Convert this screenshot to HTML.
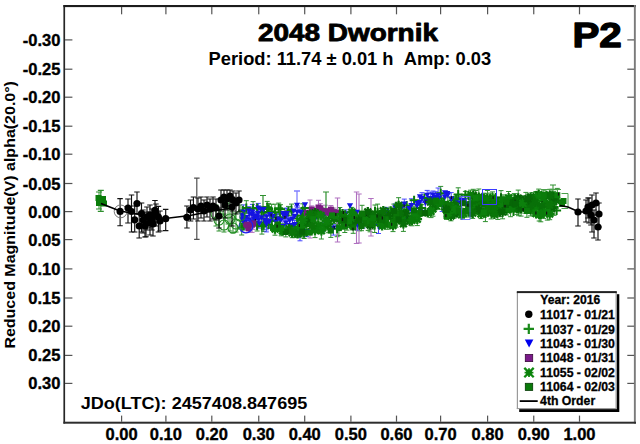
<!DOCTYPE html>
<html><head><meta charset="utf-8"><style>
html,body{margin:0;padding:0;background:#fff;width:640px;height:444px;overflow:hidden}
text{font-family:"Liberation Sans", sans-serif}
</style></head><body>
<svg width="640" height="444" viewBox="0 0 640 444" style="position:absolute;left:0;top:0;font-family:'Liberation Sans', sans-serif">
<rect width="640" height="444" fill="#fff"/>
<path d="M453.5 196.8V204.0M451.0 196.8h5M451.0 204.0h5" stroke="#2e8f2e" stroke-width="1.0" fill="none"/>
<path d="M280.1 213.4V225.3M277.6 213.4h5M277.6 225.3h5" stroke="#2e8f2e" stroke-width="1.0" fill="none"/>
<path d="M328.8 212.8V221.4M326.3 212.8h5M326.3 221.4h5" stroke="#2e8f2e" stroke-width="1.0" fill="none"/>
<path d="M263.8 206.6V218.1M261.3 206.6h5M261.3 218.1h5" stroke="#2e8f2e" stroke-width="1.0" fill="none"/>
<path d="M390.9 211.6V222.8M388.4 211.6h5M388.4 222.8h5" stroke="#2e8f2e" stroke-width="1.0" fill="none"/>
<path d="M553.5 192.0V206.2M551.0 192.0h5M551.0 206.2h5" stroke="#2e8f2e" stroke-width="1.0" fill="none"/>
<path d="M261.9 220.0V234.1M259.4 220.0h5M259.4 234.1h5" stroke="#2e8f2e" stroke-width="1.0" fill="none"/>
<path d="M275.8 214.6V221.5M273.3 214.6h5M273.3 221.5h5" stroke="#2e8f2e" stroke-width="1.0" fill="none"/>
<path d="M440.7 186.4V197.2M438.2 186.4h5M438.2 197.2h5" stroke="#2e8f2e" stroke-width="1.0" fill="none"/>
<path d="M370.3 210.8V217.5M367.8 210.8h5M367.8 217.5h5" stroke="#2e8f2e" stroke-width="1.0" fill="none"/>
<path d="M342.3 214.3V229.1M339.8 214.3h5M339.8 229.1h5" stroke="#2e8f2e" stroke-width="1.0" fill="none"/>
<path d="M498.0 197.5V206.3M495.5 197.5h5M495.5 206.3h5" stroke="#2e8f2e" stroke-width="1.0" fill="none"/>
<path d="M337.1 225.1V236.7M334.6 225.1h5M334.6 236.7h5" stroke="#2e8f2e" stroke-width="1.0" fill="none"/>
<path d="M268.7 203.4V215.7M266.2 203.4h5M266.2 215.7h5" stroke="#2e8f2e" stroke-width="1.0" fill="none"/>
<path d="M368.2 216.6V230.4M365.7 216.6h5M365.7 230.4h5" stroke="#2e8f2e" stroke-width="1.0" fill="none"/>
<path d="M280.5 204.7V216.4M278.0 204.7h5M278.0 216.4h5" stroke="#2e8f2e" stroke-width="1.0" fill="none"/>
<path d="M514.4 193.6V203.9M511.9 193.6h5M511.9 203.9h5" stroke="#2e8f2e" stroke-width="1.0" fill="none"/>
<path d="M349.8 211.6V221.9M347.3 211.6h5M347.3 221.9h5" stroke="#2e8f2e" stroke-width="1.0" fill="none"/>
<path d="M465.4 191.4V202.3M462.9 191.4h5M462.9 202.3h5" stroke="#2e8f2e" stroke-width="1.0" fill="none"/>
<path d="M267.2 201.4V213.3M264.7 201.4h5M264.7 213.3h5" stroke="#2e8f2e" stroke-width="1.0" fill="none"/>
<path d="M243.6 221.9V229.6M241.1 221.9h5M241.1 229.6h5" stroke="#2e8f2e" stroke-width="1.0" fill="none"/>
<path d="M359.5 220.4V230.8M357.0 220.4h5M357.0 230.8h5" stroke="#2e8f2e" stroke-width="1.0" fill="none"/>
<path d="M302.8 203.8V216.6M300.3 203.8h5M300.3 216.6h5" stroke="#2e8f2e" stroke-width="1.0" fill="none"/>
<path d="M490.3 193.1V206.7M487.8 193.1h5M487.8 206.7h5" stroke="#2e8f2e" stroke-width="1.0" fill="none"/>
<path d="M486.3 197.9V212.5M483.8 197.9h5M483.8 212.5h5" stroke="#2e8f2e" stroke-width="1.0" fill="none"/>
<path d="M461.1 196.7V208.0M458.6 196.7h5M458.6 208.0h5" stroke="#2e8f2e" stroke-width="1.0" fill="none"/>
<path d="M263.7 218.9V231.5M261.2 218.9h5M261.2 231.5h5" stroke="#2e8f2e" stroke-width="1.0" fill="none"/>
<path d="M291.5 204.1V215.7M289.0 204.1h5M289.0 215.7h5" stroke="#2e8f2e" stroke-width="1.0" fill="none"/>
<path d="M390.7 207.2V215.1M388.2 207.2h5M388.2 215.1h5" stroke="#2e8f2e" stroke-width="1.0" fill="none"/>
<path d="M297.2 211.1V223.8M294.7 211.1h5M294.7 223.8h5" stroke="#2e8f2e" stroke-width="1.0" fill="none"/>
<path d="M393.0 211.2V222.5M390.5 211.2h5M390.5 222.5h5" stroke="#2e8f2e" stroke-width="1.0" fill="none"/>
<path d="M374.7 216.6V232.5M372.2 216.6h5M372.2 232.5h5" stroke="#2e8f2e" stroke-width="1.0" fill="none"/>
<path d="M456.1 194.8V207.1M453.6 194.8h5M453.6 207.1h5" stroke="#2e8f2e" stroke-width="1.0" fill="none"/>
<path d="M421.7 204.7V215.2M419.2 204.7h5M419.2 215.2h5" stroke="#2e8f2e" stroke-width="1.0" fill="none"/>
<path d="M375.0 205.0V217.5M372.5 205.0h5M372.5 217.5h5" stroke="#2e8f2e" stroke-width="1.0" fill="none"/>
<path d="M520.4 196.5V207.8M517.9 196.5h5M517.9 207.8h5" stroke="#2e8f2e" stroke-width="1.0" fill="none"/>
<path d="M271.7 217.7V227.8M269.2 217.7h5M269.2 227.8h5" stroke="#2e8f2e" stroke-width="1.0" fill="none"/>
<path d="M458.2 187.8V202.9M455.7 187.8h5M455.7 202.9h5" stroke="#2e8f2e" stroke-width="1.0" fill="none"/>
<path d="M246.3 200.7V213.4M243.8 200.7h5M243.8 213.4h5" stroke="#2e8f2e" stroke-width="1.0" fill="none"/>
<path d="M261.7 206.9V217.8M259.2 206.9h5M259.2 217.8h5" stroke="#2e8f2e" stroke-width="1.0" fill="none"/>
<path d="M344.1 211.3V223.1M341.6 211.3h5M341.6 223.1h5" stroke="#2e8f2e" stroke-width="1.0" fill="none"/>
<path d="M241.7 223.8V235.0M239.2 223.8h5M239.2 235.0h5" stroke="#2e8f2e" stroke-width="1.0" fill="none"/>
<path d="M268.5 218.5V228.1M266.0 218.5h5M266.0 228.1h5" stroke="#2e8f2e" stroke-width="1.0" fill="none"/>
<path d="M554.1 202.3V215.3M551.6 202.3h5M551.6 215.3h5" stroke="#2e8f2e" stroke-width="1.0" fill="none"/>
<path d="M275.0 204.2V216.4M272.5 204.2h5M272.5 216.4h5" stroke="#2e8f2e" stroke-width="1.0" fill="none"/>
<path d="M244.4 212.3V225.8M241.9 212.3h5M241.9 225.8h5" stroke="#2e8f2e" stroke-width="1.0" fill="none"/>
<path d="M420.3 200.1V213.5M417.8 200.1h5M417.8 213.5h5" stroke="#2e8f2e" stroke-width="1.0" fill="none"/>
<path d="M483.9 193.2V203.7M481.4 193.2h5M481.4 203.7h5" stroke="#2e8f2e" stroke-width="1.0" fill="none"/>
<path d="M377.6 204.1V217.9M375.1 204.1h5M375.1 217.9h5" stroke="#2e8f2e" stroke-width="1.0" fill="none"/>
<path d="M288.5 206.4V218.8M286.0 206.4h5M286.0 218.8h5" stroke="#2e8f2e" stroke-width="1.0" fill="none"/>
<path d="M501.0 190.6V201.6M498.5 190.6h5M498.5 201.6h5" stroke="#2e8f2e" stroke-width="1.0" fill="none"/>
<path d="M443.9 198.0V207.0M441.4 198.0h5M441.4 207.0h5" stroke="#2e8f2e" stroke-width="1.0" fill="none"/>
<path d="M339.8 207.5V218.7M337.3 207.5h5M337.3 218.7h5" stroke="#2e8f2e" stroke-width="1.0" fill="none"/>
<path d="M278.7 203.1V214.3M276.2 203.1h5M276.2 214.3h5" stroke="#2e8f2e" stroke-width="1.0" fill="none"/>
<path d="M301.0 209.1V221.0M298.5 209.1h5M298.5 221.0h5" stroke="#2e8f2e" stroke-width="1.0" fill="none"/>
<path d="M253.1 201.6V212.7M250.6 201.6h5M250.6 212.7h5" stroke="#2e8f2e" stroke-width="1.0" fill="none"/>
<path d="M271.6 204.3V217.5M269.1 204.3h5M269.1 217.5h5" stroke="#2e8f2e" stroke-width="1.0" fill="none"/>
<path d="M323.4 208.6V219.4M320.9 208.6h5M320.9 219.4h5" stroke="#2e8f2e" stroke-width="1.0" fill="none"/>
<path d="M257.1 218.7V231.0M254.6 218.7h5M254.6 231.0h5" stroke="#2e8f2e" stroke-width="1.0" fill="none"/>
<path d="M533.5 192.6V207.1M531.0 192.6h5M531.0 207.1h5" stroke="#2e8f2e" stroke-width="1.0" fill="none"/>
<path d="M251.9 209.0V218.9M249.4 209.0h5M249.4 218.9h5" stroke="#4848ff" stroke-width="1.0" fill="none"/>
<path d="M258.3 203.4V215.8M255.8 203.4h5M255.8 215.8h5" stroke="#4848ff" stroke-width="1.0" fill="none"/>
<path d="M285.9 216.3V229.3M283.4 216.3h5M283.4 229.3h5" stroke="#4848ff" stroke-width="1.0" fill="none"/>
<path d="M297.3 207.7V216.3M294.8 207.7h5M294.8 216.3h5" stroke="#4848ff" stroke-width="1.0" fill="none"/>
<path d="M289.7 218.4V229.9M287.2 218.4h5M287.2 229.9h5" stroke="#4848ff" stroke-width="1.0" fill="none"/>
<path d="M435.4 191.7V204.0M432.9 191.7h5M432.9 204.0h5" stroke="#4848ff" stroke-width="1.0" fill="none"/>
<path d="M323.2 209.3V222.7M320.7 209.3h5M320.7 222.7h5" stroke="#4848ff" stroke-width="1.0" fill="none"/>
<path d="M258.7 214.9V228.1M256.2 214.9h5M256.2 228.1h5" stroke="#4848ff" stroke-width="1.0" fill="none"/>
<path d="M249.0 206.7V219.0M246.5 206.7h5M246.5 219.0h5" stroke="#4848ff" stroke-width="1.0" fill="none"/>
<path d="M253.9 212.0V220.8M251.4 212.0h5M251.4 220.8h5" stroke="#4848ff" stroke-width="1.0" fill="none"/>
<path d="M432.7 193.6V203.9M430.2 193.6h5M430.2 203.9h5" stroke="#4848ff" stroke-width="1.0" fill="none"/>
<path d="M275.8 217.7V225.8M273.3 217.7h5M273.3 225.8h5" stroke="#4848ff" stroke-width="1.0" fill="none"/>
<path d="M346.0 209.8V218.9M343.5 209.8h5M343.5 218.9h5" stroke="#4848ff" stroke-width="1.0" fill="none"/>
<path d="M458.0 197.5V211.1M455.5 197.5h5M455.5 211.1h5" stroke="#4848ff" stroke-width="1.0" fill="none"/>
<path d="M252.4 204.4V219.8M249.9 204.4h5M249.9 219.8h5" stroke="#4848ff" stroke-width="1.0" fill="none"/>
<path d="M466.5 198.5V211.5M464.0 198.5h5M464.0 211.5h5" stroke="#4848ff" stroke-width="1.0" fill="none"/>
<path d="M451.2 192.6V207.3M448.7 192.6h5M448.7 207.3h5" stroke="#4848ff" stroke-width="1.0" fill="none"/>
<path d="M362.9 216.7V228.1M360.4 216.7h5M360.4 228.1h5" stroke="#4848ff" stroke-width="1.0" fill="none"/>
<path d="M282.9 219.4V231.0M280.4 219.4h5M280.4 231.0h5" stroke="#4848ff" stroke-width="1.0" fill="none"/>
<path d="M427.2 190.4V202.5M424.7 190.4h5M424.7 202.5h5" stroke="#4848ff" stroke-width="1.0" fill="none"/>
<path d="M277.8 213.1V224.2M275.3 213.1h5M275.3 224.2h5" stroke="#4848ff" stroke-width="1.0" fill="none"/>
<path d="M286.0 208.4V220.2M283.5 208.4h5M283.5 220.2h5" stroke="#4848ff" stroke-width="1.0" fill="none"/>
<path d="M300.6 209.4V220.7M298.1 209.4h5M298.1 220.7h5" stroke="#4848ff" stroke-width="1.0" fill="none"/>
<path d="M422.0 192.7V202.4M419.5 192.7h5M419.5 202.4h5" stroke="#4848ff" stroke-width="1.0" fill="none"/>
<path d="M266.7 209.1V220.2M264.2 209.1h5M264.2 220.2h5" stroke="#4848ff" stroke-width="1.0" fill="none"/>
<path d="M289.6 217.6V224.2M287.1 217.6h5M287.1 224.2h5" stroke="#4848ff" stroke-width="1.0" fill="none"/>
<path d="M356.6 211.4V226.6M354.1 211.4h5M354.1 226.6h5" stroke="#4848ff" stroke-width="1.0" fill="none"/>
<path d="M242.2 215.9V225.2M239.7 215.9h5M239.7 225.2h5" stroke="#4848ff" stroke-width="1.0" fill="none"/>
<path d="M306.4 225.8V236.6M303.9 225.8h5M303.9 236.6h5" stroke="#4848ff" stroke-width="1.0" fill="none"/>
<path d="M333.5 224.2V235.1M331.0 224.2h5M331.0 235.1h5" stroke="#4848ff" stroke-width="1.0" fill="none"/>
<path d="M286.8 208.1V217.2M284.3 208.1h5M284.3 217.2h5" stroke="#4848ff" stroke-width="1.0" fill="none"/>
<path d="M249.8 208.2V222.7M247.3 208.2h5M247.3 222.7h5" stroke="#4848ff" stroke-width="1.0" fill="none"/>
<path d="M272.7 213.0V221.4M270.2 213.0h5M270.2 221.4h5" stroke="#4848ff" stroke-width="1.0" fill="none"/>
<path d="M270.0 207.8V222.8M267.5 207.8h5M267.5 222.8h5" stroke="#4848ff" stroke-width="1.0" fill="none"/>
<path d="M419.6 197.0V208.9M417.1 197.0h5M417.1 208.9h5" stroke="#4848ff" stroke-width="1.0" fill="none"/>
<path d="M264.7 214.3V227.0M262.2 214.3h5M262.2 227.0h5" stroke="#4848ff" stroke-width="1.0" fill="none"/>
<path d="M243.3 215.6V229.7M240.8 215.6h5M240.8 229.7h5" stroke="#4848ff" stroke-width="1.0" fill="none"/>
<path d="M380.0 217.2V228.5M377.5 217.2h5M377.5 228.5h5" stroke="#4848ff" stroke-width="1.0" fill="none"/>
<path d="M444.8 194.1V204.9M442.3 194.1h5M442.3 204.9h5" stroke="#4848ff" stroke-width="1.0" fill="none"/>
<path d="M269.4 216.0V228.0M266.9 216.0h5M266.9 228.0h5" stroke="#4848ff" stroke-width="1.0" fill="none"/>
<path d="M378.5 222.8V233.5M376.0 222.8h5M376.0 233.5h5" stroke="#4848ff" stroke-width="1.0" fill="none"/>
<path d="M385.7 207.4V217.2M383.2 207.4h5M383.2 217.2h5" stroke="#4848ff" stroke-width="1.0" fill="none"/>
<path d="M249.2 212.9V224.6M246.7 212.9h5M246.7 224.6h5" stroke="#4848ff" stroke-width="1.0" fill="none"/>
<path d="M254.2 213.9V224.7M251.7 213.9h5M251.7 224.7h5" stroke="#4848ff" stroke-width="1.0" fill="none"/>
<path d="M461.5 194.9V204.7M459.0 194.9h5M459.0 204.7h5" stroke="#4848ff" stroke-width="1.0" fill="none"/>
<path d="M401.5 204.3V212.5M399.0 204.3h5M399.0 212.5h5" stroke="#4848ff" stroke-width="1.0" fill="none"/>
<path d="M357.4 217.9V230.1M354.9 217.9h5M354.9 230.1h5" stroke="#4848ff" stroke-width="1.0" fill="none"/>
<path d="M430.4 192.1V203.1M427.9 192.1h5M427.9 203.1h5" stroke="#4848ff" stroke-width="1.0" fill="none"/>
<path d="M425.3 198.8V211.0M422.8 198.8h5M422.8 211.0h5" stroke="#4848ff" stroke-width="1.0" fill="none"/>
<path d="M433.0 191.0V199.9M430.5 191.0h5M430.5 199.9h5" stroke="#4848ff" stroke-width="1.0" fill="none"/>
<path d="M411.4 198.8V212.5M408.9 198.8h5M408.9 212.5h5" stroke="#4848ff" stroke-width="1.0" fill="none"/>
<path d="M266.3 219.2V229.8M263.8 219.2h5M263.8 229.8h5" stroke="#4848ff" stroke-width="1.0" fill="none"/>
<path d="M294.7 220.6V230.1M292.2 220.6h5M292.2 230.1h5" stroke="#4848ff" stroke-width="1.0" fill="none"/>
<path d="M246.3 215.8V228.8M243.8 215.8h5M243.8 228.8h5" stroke="#4848ff" stroke-width="1.0" fill="none"/>
<path d="M266.4 220.8V231.9M263.9 220.8h5M263.9 231.9h5" stroke="#4848ff" stroke-width="1.0" fill="none"/>
<path d="M243.4 204.9V217.3M240.9 204.9h5M240.9 217.3h5" stroke="#4848ff" stroke-width="1.0" fill="none"/>
<path d="M442.1 198.1V211.4M439.6 198.1h5M439.6 211.4h5" stroke="#4848ff" stroke-width="1.0" fill="none"/>
<path d="M438.1 188.0V198.6M435.6 188.0h5M435.6 198.6h5" stroke="#4848ff" stroke-width="1.0" fill="none"/>
<path d="M404.3 199.1V207.6M401.8 199.1h5M401.8 207.6h5" stroke="#4848ff" stroke-width="1.0" fill="none"/>
<path d="M395.3 203.9V215.9M392.8 203.9h5M392.8 215.9h5" stroke="#4848ff" stroke-width="1.0" fill="none"/>
<path d="M402.2 204.7V216.6M399.7 204.7h5M399.7 216.6h5" stroke="#4848ff" stroke-width="1.0" fill="none"/>
<path d="M261.5 209.7V221.9M259.0 209.7h5M259.0 221.9h5" stroke="#4848ff" stroke-width="1.0" fill="none"/>
<path d="M300.0 226.2V240.8M297.5 226.2h5M297.5 240.8h5" stroke="#4848ff" stroke-width="1.0" fill="none"/>
<path d="M292.4 211.0V224.7M289.9 211.0h5M289.9 224.7h5" stroke="#4848ff" stroke-width="1.0" fill="none"/>
<path d="M311.8 205.9V214.0M309.3 205.9h5M309.3 214.0h5" stroke="#b070c0" stroke-width="1.0" fill="none"/>
<path d="M330.9 205.5V214.5M328.4 205.5h5M328.4 214.5h5" stroke="#b070c0" stroke-width="1.0" fill="none"/>
<path d="M248.6 223.6V232.3M246.1 223.6h5M246.1 232.3h5" stroke="#b070c0" stroke-width="1.0" fill="none"/>
<path d="M325.3 205.2V217.1M322.8 205.2h5M322.8 217.1h5" stroke="#b070c0" stroke-width="1.0" fill="none"/>
<path d="M253.2 216.2V229.3M250.7 216.2h5M250.7 229.3h5" stroke="#b070c0" stroke-width="1.0" fill="none"/>
<path d="M334.0 208.1V215.8M331.5 208.1h5M331.5 215.8h5" stroke="#b070c0" stroke-width="1.0" fill="none"/>
<path d="M318.5 200.3V215.6M316.0 200.3h5M316.0 215.6h5" stroke="#b070c0" stroke-width="1.0" fill="none"/>
<path d="M247.2 220.9V229.6M244.7 220.9h5M244.7 229.6h5" stroke="#b070c0" stroke-width="1.0" fill="none"/>
<path d="M320.3 203.7V215.7M317.8 203.7h5M317.8 215.7h5" stroke="#b070c0" stroke-width="1.0" fill="none"/>
<path d="M252.1 218.4V232.4M249.6 218.4h5M249.6 232.4h5" stroke="#b070c0" stroke-width="1.0" fill="none"/>
<path d="M315.2 208.8V221.1M312.7 208.8h5M312.7 221.1h5" stroke="#2e8f2e" stroke-width="1.0" fill="none"/>
<path d="M552.0 189.3V201.7M549.5 189.3h5M549.5 201.7h5" stroke="#2e8f2e" stroke-width="1.0" fill="none"/>
<path d="M305.2 219.0V226.9M302.7 219.0h5M302.7 226.9h5" stroke="#2e8f2e" stroke-width="1.0" fill="none"/>
<path d="M527.8 199.2V206.4M525.3 199.2h5M525.3 206.4h5" stroke="#2e8f2e" stroke-width="1.0" fill="none"/>
<path d="M306.5 215.3V228.4M304.0 215.3h5M304.0 228.4h5" stroke="#2e8f2e" stroke-width="1.0" fill="none"/>
<path d="M538.7 189.1V198.7M536.2 189.1h5M536.2 198.7h5" stroke="#2e8f2e" stroke-width="1.0" fill="none"/>
<path d="M508.1 198.6V206.5M505.6 198.6h5M505.6 206.5h5" stroke="#2e8f2e" stroke-width="1.0" fill="none"/>
<path d="M506.6 203.5V215.0M504.1 203.5h5M504.1 215.0h5" stroke="#2e8f2e" stroke-width="1.0" fill="none"/>
<path d="M345.9 212.5V223.7M343.4 212.5h5M343.4 223.7h5" stroke="#2e8f2e" stroke-width="1.0" fill="none"/>
<path d="M275.0 221.1V235.2M272.5 221.1h5M272.5 235.2h5" stroke="#2e8f2e" stroke-width="1.0" fill="none"/>
<path d="M359.8 211.4V222.9M357.3 211.4h5M357.3 222.9h5" stroke="#2e8f2e" stroke-width="1.0" fill="none"/>
<path d="M380.1 215.0V227.3M377.6 215.0h5M377.6 227.3h5" stroke="#2e8f2e" stroke-width="1.0" fill="none"/>
<path d="M497.8 205.2V219.4M495.3 205.2h5M495.3 219.4h5" stroke="#2e8f2e" stroke-width="1.0" fill="none"/>
<path d="M347.0 219.1V230.1M344.5 219.1h5M344.5 230.1h5" stroke="#2e8f2e" stroke-width="1.0" fill="none"/>
<path d="M535.9 191.5V201.6M533.4 191.5h5M533.4 201.6h5" stroke="#2e8f2e" stroke-width="1.0" fill="none"/>
<path d="M538.6 203.7V214.0M536.1 203.7h5M536.1 214.0h5" stroke="#2e8f2e" stroke-width="1.0" fill="none"/>
<path d="M304.1 226.7V238.5M301.6 226.7h5M301.6 238.5h5" stroke="#2e8f2e" stroke-width="1.0" fill="none"/>
<path d="M419.2 208.0V216.1M416.7 208.0h5M416.7 216.1h5" stroke="#2e8f2e" stroke-width="1.0" fill="none"/>
<path d="M533.2 196.4V207.0M530.7 196.4h5M530.7 207.0h5" stroke="#2e8f2e" stroke-width="1.0" fill="none"/>
<path d="M374.3 212.3V221.3M371.8 212.3h5M371.8 221.3h5" stroke="#2e8f2e" stroke-width="1.0" fill="none"/>
<path d="M530.6 203.7V215.9M528.1 203.7h5M528.1 215.9h5" stroke="#2e8f2e" stroke-width="1.0" fill="none"/>
<path d="M325.2 220.9V229.8M322.7 220.9h5M322.7 229.8h5" stroke="#2e8f2e" stroke-width="1.0" fill="none"/>
<path d="M540.8 206.8V221.8M538.3 206.8h5M538.3 221.8h5" stroke="#2e8f2e" stroke-width="1.0" fill="none"/>
<path d="M455.4 198.3V212.1M452.9 198.3h5M452.9 212.1h5" stroke="#2e8f2e" stroke-width="1.0" fill="none"/>
<path d="M492.6 191.9V206.2M490.1 191.9h5M490.1 206.2h5" stroke="#2e8f2e" stroke-width="1.0" fill="none"/>
<path d="M481.0 208.4V218.6M478.5 208.4h5M478.5 218.6h5" stroke="#2e8f2e" stroke-width="1.0" fill="none"/>
<path d="M454.3 209.0V218.0M451.8 209.0h5M451.8 218.0h5" stroke="#2e8f2e" stroke-width="1.0" fill="none"/>
<path d="M518.5 200.7V215.7M516.0 200.7h5M516.0 215.7h5" stroke="#2e8f2e" stroke-width="1.0" fill="none"/>
<path d="M454.3 197.9V212.2M451.8 197.9h5M451.8 212.2h5" stroke="#2e8f2e" stroke-width="1.0" fill="none"/>
<path d="M552.3 194.4V206.5M549.8 194.4h5M549.8 206.5h5" stroke="#2e8f2e" stroke-width="1.0" fill="none"/>
<path d="M518.2 190.1V201.2M515.7 190.1h5M515.7 201.2h5" stroke="#2e8f2e" stroke-width="1.0" fill="none"/>
<path d="M432.9 204.0V216.2M430.4 204.0h5M430.4 216.2h5" stroke="#2e8f2e" stroke-width="1.0" fill="none"/>
<path d="M533.2 199.7V215.9M530.7 199.7h5M530.7 215.9h5" stroke="#2e8f2e" stroke-width="1.0" fill="none"/>
<path d="M510.9 197.8V207.9M508.4 197.8h5M508.4 207.9h5" stroke="#2e8f2e" stroke-width="1.0" fill="none"/>
<path d="M487.4 190.5V206.7M484.9 190.5h5M484.9 206.7h5" stroke="#2e8f2e" stroke-width="1.0" fill="none"/>
<path d="M441.4 198.5V209.3M438.9 198.5h5M438.9 209.3h5" stroke="#2e8f2e" stroke-width="1.0" fill="none"/>
<path d="M294.9 226.9V237.6M292.4 226.9h5M292.4 237.6h5" stroke="#2e8f2e" stroke-width="1.0" fill="none"/>
<path d="M318.4 217.6V232.6M315.9 217.6h5M315.9 232.6h5" stroke="#2e8f2e" stroke-width="1.0" fill="none"/>
<path d="M351.6 214.0V228.7M349.1 214.0h5M349.1 228.7h5" stroke="#2e8f2e" stroke-width="1.0" fill="none"/>
<path d="M471.2 201.7V211.8M468.7 201.7h5M468.7 211.8h5" stroke="#2e8f2e" stroke-width="1.0" fill="none"/>
<path d="M498.7 199.3V210.5M496.2 199.3h5M496.2 210.5h5" stroke="#2e8f2e" stroke-width="1.0" fill="none"/>
<path d="M491.2 205.0V218.9M488.7 205.0h5M488.7 218.9h5" stroke="#2e8f2e" stroke-width="1.0" fill="none"/>
<path d="M499.8 206.1V216.7M497.3 206.1h5M497.3 216.7h5" stroke="#2e8f2e" stroke-width="1.0" fill="none"/>
<path d="M472.5 198.0V208.6M470.0 198.0h5M470.0 208.6h5" stroke="#2e8f2e" stroke-width="1.0" fill="none"/>
<path d="M450.9 207.8V220.8M448.4 207.8h5M448.4 220.8h5" stroke="#2e8f2e" stroke-width="1.0" fill="none"/>
<path d="M417.3 211.0V225.6M414.8 211.0h5M414.8 225.6h5" stroke="#2e8f2e" stroke-width="1.0" fill="none"/>
<path d="M518.8 197.6V208.0M516.3 197.6h5M516.3 208.0h5" stroke="#2e8f2e" stroke-width="1.0" fill="none"/>
<path d="M546.9 201.7V212.7M544.4 201.7h5M544.4 212.7h5" stroke="#2e8f2e" stroke-width="1.0" fill="none"/>
<path d="M396.0 214.5V227.2M393.5 214.5h5M393.5 227.2h5" stroke="#2e8f2e" stroke-width="1.0" fill="none"/>
<path d="M517.0 204.1V214.4M514.5 204.1h5M514.5 214.4h5" stroke="#2e8f2e" stroke-width="1.0" fill="none"/>
<path d="M282.5 226.2V234.4M280.0 226.2h5M280.0 234.4h5" stroke="#2e8f2e" stroke-width="1.0" fill="none"/>
<path d="M351.8 207.4V218.2M349.3 207.4h5M349.3 218.2h5" stroke="#2e8f2e" stroke-width="1.0" fill="none"/>
<path d="M476.8 202.9V213.4M474.3 202.9h5M474.3 213.4h5" stroke="#2e8f2e" stroke-width="1.0" fill="none"/>
<path d="M556.3 194.7V208.6M553.8 194.7h5M553.8 208.6h5" stroke="#2e8f2e" stroke-width="1.0" fill="none"/>
<path d="M553.5 191.3V203.5M551.0 191.3h5M551.0 203.5h5" stroke="#2e8f2e" stroke-width="1.0" fill="none"/>
<path d="M353.1 209.0V223.7M350.6 209.0h5M350.6 223.7h5" stroke="#2e8f2e" stroke-width="1.0" fill="none"/>
<path d="M328.2 218.3V232.7M325.7 218.3h5M325.7 232.7h5" stroke="#2e8f2e" stroke-width="1.0" fill="none"/>
<path d="M481.4 196.8V208.1M478.9 196.8h5M478.9 208.1h5" stroke="#2e8f2e" stroke-width="1.0" fill="none"/>
<path d="M393.0 221.7V231.6M390.5 221.7h5M390.5 231.6h5" stroke="#2e8f2e" stroke-width="1.0" fill="none"/>
<path d="M388.0 208.8V222.7M385.5 208.8h5M385.5 222.7h5" stroke="#2e8f2e" stroke-width="1.0" fill="none"/>
<path d="M487.5 202.0V215.8M485.0 202.0h5M485.0 215.8h5" stroke="#2e8f2e" stroke-width="1.0" fill="none"/>
<path d="M455.6 204.4V215.3M453.1 204.4h5M453.1 215.3h5" stroke="#2e8f2e" stroke-width="1.0" fill="none"/>
<path d="M520.2 199.3V213.2M517.7 199.3h5M517.7 213.2h5" stroke="#2e8f2e" stroke-width="1.0" fill="none"/>
<path d="M541.4 192.6V200.5M538.9 192.6h5M538.9 200.5h5" stroke="#2e8f2e" stroke-width="1.0" fill="none"/>
<path d="M297.6 228.3V237.4M295.1 228.3h5M295.1 237.4h5" stroke="#2e8f2e" stroke-width="1.0" fill="none"/>
<path d="M473.3 189.3V202.6M470.8 189.3h5M470.8 202.6h5" stroke="#2e8f2e" stroke-width="1.0" fill="none"/>
<path d="M539.2 207.7V221.0M536.7 207.7h5M536.7 221.0h5" stroke="#2e8f2e" stroke-width="1.0" fill="none"/>
<path d="M525.8 203.3V213.4M523.3 203.3h5M523.3 213.4h5" stroke="#2e8f2e" stroke-width="1.0" fill="none"/>
<path d="M530.3 201.8V210.7M527.8 201.8h5M527.8 210.7h5" stroke="#2e8f2e" stroke-width="1.0" fill="none"/>
<path d="M450.3 203.5V212.1M447.8 203.5h5M447.8 212.1h5" stroke="#2e8f2e" stroke-width="1.0" fill="none"/>
<path d="M510.6 204.9V216.7M508.1 204.9h5M508.1 216.7h5" stroke="#2e8f2e" stroke-width="1.0" fill="none"/>
<path d="M486.0 193.6V204.6M483.5 193.6h5M483.5 204.6h5" stroke="#2e8f2e" stroke-width="1.0" fill="none"/>
<path d="M495.0 198.2V207.1M492.5 198.2h5M492.5 207.1h5" stroke="#2e8f2e" stroke-width="1.0" fill="none"/>
<path d="M326.4 215.9V226.3M323.9 215.9h5M323.9 226.3h5" stroke="#2e8f2e" stroke-width="1.0" fill="none"/>
<path d="M511.7 194.9V209.2M509.2 194.9h5M509.2 209.2h5" stroke="#2e8f2e" stroke-width="1.0" fill="none"/>
<path d="M448.1 207.8V218.2M445.6 207.8h5M445.6 218.2h5" stroke="#2e8f2e" stroke-width="1.0" fill="none"/>
<path d="M543.6 196.6V207.8M541.1 196.6h5M541.1 207.8h5" stroke="#2e8f2e" stroke-width="1.0" fill="none"/>
<path d="M317.7 210.1V222.0M315.2 210.1h5M315.2 222.0h5" stroke="#2e8f2e" stroke-width="1.0" fill="none"/>
<path d="M399.3 207.6V221.1M396.8 207.6h5M396.8 221.1h5" stroke="#2e8f2e" stroke-width="1.0" fill="none"/>
<path d="M341.8 215.6V228.6M339.3 215.6h5M339.3 228.6h5" stroke="#2e8f2e" stroke-width="1.0" fill="none"/>
<path d="M310.0 207.7V221.4M307.5 207.7h5M307.5 221.4h5" stroke="#2e8f2e" stroke-width="1.0" fill="none"/>
<path d="M321.4 223.8V239.0M318.9 223.8h5M318.9 239.0h5" stroke="#2e8f2e" stroke-width="1.0" fill="none"/>
<path d="M543.7 206.3V218.4M541.2 206.3h5M541.2 218.4h5" stroke="#2e8f2e" stroke-width="1.0" fill="none"/>
<path d="M315.0 226.2V237.6M312.5 226.2h5M312.5 237.6h5" stroke="#2e8f2e" stroke-width="1.0" fill="none"/>
<path d="M334.2 210.1V223.4M331.7 210.1h5M331.7 223.4h5" stroke="#2e8f2e" stroke-width="1.0" fill="none"/>
<path d="M472.7 210.0V218.4M470.2 210.0h5M470.2 218.4h5" stroke="#2e8f2e" stroke-width="1.0" fill="none"/>
<path d="M321.0 209.2V219.8M318.5 209.2h5M318.5 219.8h5" stroke="#2e8f2e" stroke-width="1.0" fill="none"/>
<path d="M525.9 192.4V204.9M523.4 192.4h5M523.4 204.9h5" stroke="#2e8f2e" stroke-width="1.0" fill="none"/>
<path d="M302.8 213.9V227.6M300.3 213.9h5M300.3 227.6h5" stroke="#2e8f2e" stroke-width="1.0" fill="none"/>
<path d="M502.6 205.7V218.8M500.1 205.7h5M500.1 218.8h5" stroke="#2e8f2e" stroke-width="1.0" fill="none"/>
<path d="M378.2 211.8V222.3M375.7 211.8h5M375.7 222.3h5" stroke="#2e8f2e" stroke-width="1.0" fill="none"/>
<path d="M549.8 189.3V201.4M547.3 189.3h5M547.3 201.4h5" stroke="#2e8f2e" stroke-width="1.0" fill="none"/>
<path d="M292.2 225.6V237.7M289.7 225.6h5M289.7 237.7h5" stroke="#2e8f2e" stroke-width="1.0" fill="none"/>
<path d="M447.9 197.1V209.9M445.4 197.1h5M445.4 209.9h5" stroke="#2e8f2e" stroke-width="1.0" fill="none"/>
<path d="M549.7 208.1V219.7M547.2 208.1h5M547.2 219.7h5" stroke="#2e8f2e" stroke-width="1.0" fill="none"/>
<path d="M508.6 191.5V205.8M506.1 191.5h5M506.1 205.8h5" stroke="#2e8f2e" stroke-width="1.0" fill="none"/>
<path d="M513.5 198.4V210.4M511.0 198.4h5M511.0 210.4h5" stroke="#2e8f2e" stroke-width="1.0" fill="none"/>
<path d="M431.0 207.5V217.6M428.5 207.5h5M428.5 217.6h5" stroke="#2e8f2e" stroke-width="1.0" fill="none"/>
<path d="M485.4 207.2V221.6M482.9 207.2h5M482.9 221.6h5" stroke="#2e8f2e" stroke-width="1.0" fill="none"/>
<path d="M478.8 189.0V202.2M476.3 189.0h5M476.3 202.2h5" stroke="#2e8f2e" stroke-width="1.0" fill="none"/>
<path d="M368.2 215.4V226.8M365.7 215.4h5M365.7 226.8h5" stroke="#2e8f2e" stroke-width="1.0" fill="none"/>
<path d="M354.3 209.8V222.4M351.8 209.8h5M351.8 222.4h5" stroke="#2e8f2e" stroke-width="1.0" fill="none"/>
<path d="M493.4 203.9V214.9M490.9 203.9h5M490.9 214.9h5" stroke="#2e8f2e" stroke-width="1.0" fill="none"/>
<path d="M311.9 220.9V232.5M309.4 220.9h5M309.4 232.5h5" stroke="#2e8f2e" stroke-width="1.0" fill="none"/>
<path d="M521.1 203.6V216.1M518.6 203.6h5M518.6 216.1h5" stroke="#2e8f2e" stroke-width="1.0" fill="none"/>
<path d="M359.1 216.6V224.3M356.6 216.6h5M356.6 224.3h5" stroke="#2e8f2e" stroke-width="1.0" fill="none"/>
<path d="M446.1 202.1V216.6M443.6 202.1h5M443.6 216.6h5" stroke="#2e8f2e" stroke-width="1.0" fill="none"/>
<path d="M370.1 219.3V231.8M367.6 219.3h5M367.6 231.8h5" stroke="#2e8f2e" stroke-width="1.0" fill="none"/>
<path d="M403.4 216.2V231.4M400.9 216.2h5M400.9 231.4h5" stroke="#2e8f2e" stroke-width="1.0" fill="none"/>
<path d="M522.8 196.2V210.0M520.3 196.2h5M520.3 210.0h5" stroke="#2e8f2e" stroke-width="1.0" fill="none"/>
<path d="M398.6 197.7V209.7M396.1 197.7h5M396.1 209.7h5" stroke="#2e8f2e" stroke-width="1.0" fill="none"/>
<path d="M411.9 215.7V225.8M409.4 215.7h5M409.4 225.8h5" stroke="#2e8f2e" stroke-width="1.0" fill="none"/>
<path d="M547.3 205.4V220.1M544.8 205.4h5M544.8 220.1h5" stroke="#2e8f2e" stroke-width="1.0" fill="none"/>
<path d="M436.0 196.4V207.0M433.5 196.4h5M433.5 207.0h5" stroke="#2e8f2e" stroke-width="1.0" fill="none"/>
<path d="M285.8 223.7V236.9M283.3 223.7h5M283.3 236.9h5" stroke="#2e8f2e" stroke-width="1.0" fill="none"/>
<path d="M338.9 222.7V235.6M336.4 222.7h5M336.4 235.6h5" stroke="#2e8f2e" stroke-width="1.0" fill="none"/>
<path d="M458.9 206.8V215.7M456.4 206.8h5M456.4 215.7h5" stroke="#2e8f2e" stroke-width="1.0" fill="none"/>
<path d="M281.2 223.8V235.8M278.7 223.8h5M278.7 235.8h5" stroke="#2e8f2e" stroke-width="1.0" fill="none"/>
<path d="M396.3 209.5V218.8M393.8 209.5h5M393.8 218.8h5" stroke="#2e8f2e" stroke-width="1.0" fill="none"/>
<path d="M365.3 216.7V226.8M362.8 216.7h5M362.8 226.8h5" stroke="#2e8f2e" stroke-width="1.0" fill="none"/>
<path d="M353.2 219.7V233.3M350.7 219.7h5M350.7 233.3h5" stroke="#2e8f2e" stroke-width="1.0" fill="none"/>
<path d="M446.5 212.6V219.4M444.0 212.6h5M444.0 219.4h5" stroke="#2e8f2e" stroke-width="1.0" fill="none"/>
<path d="M313.3 210.8V225.5M310.8 210.8h5M310.8 225.5h5" stroke="#2e8f2e" stroke-width="1.0" fill="none"/>
<path d="M365.9 219.6V226.2M363.4 219.6h5M363.4 226.2h5" stroke="#2e8f2e" stroke-width="1.0" fill="none"/>
<path d="M483.6 200.5V209.0M481.1 200.5h5M481.1 209.0h5" stroke="#2e8f2e" stroke-width="1.0" fill="none"/>
<path d="M557.3 188.4V200.0M554.8 188.4h5M554.8 200.0h5" stroke="#2e8f2e" stroke-width="1.0" fill="none"/>
<path d="M470.5 190.2V200.9M468.0 190.2h5M468.0 200.9h5" stroke="#2e8f2e" stroke-width="1.0" fill="none"/>
<path d="M398.6 214.4V223.8M396.1 214.4h5M396.1 223.8h5" stroke="#2e8f2e" stroke-width="1.0" fill="none"/>
<path d="M503.0 194.9V202.4M500.5 194.9h5M500.5 202.4h5" stroke="#2e8f2e" stroke-width="1.0" fill="none"/>
<path d="M335.8 209.8V220.6M333.3 209.8h5M333.3 220.6h5" stroke="#2e8f2e" stroke-width="1.0" fill="none"/>
<path d="M370.0 213.3V226.5M367.5 213.3h5M367.5 226.5h5" stroke="#2e8f2e" stroke-width="1.0" fill="none"/>
<path d="M468.3 204.4V217.0M465.8 204.4h5M465.8 217.0h5" stroke="#2e8f2e" stroke-width="1.0" fill="none"/>
<path d="M330.8 223.9V237.4M328.3 223.9h5M328.3 237.4h5" stroke="#2e8f2e" stroke-width="1.0" fill="none"/>
<path d="M372.3 218.6V229.0M369.8 218.6h5M369.8 229.0h5" stroke="#2e8f2e" stroke-width="1.0" fill="none"/>
<path d="M385.9 215.3V226.8M383.4 215.3h5M383.4 226.8h5" stroke="#2e8f2e" stroke-width="1.0" fill="none"/>
<path d="M332.0 208.1V223.3M329.5 208.1h5M329.5 223.3h5" stroke="#2e8f2e" stroke-width="1.0" fill="none"/>
<path d="M361.5 222.9V230.7M359.0 222.9h5M359.0 230.7h5" stroke="#2e8f2e" stroke-width="1.0" fill="none"/>
<path d="M475.7 190.5V204.3M473.2 190.5h5M473.2 204.3h5" stroke="#2e8f2e" stroke-width="1.0" fill="none"/>
<path d="M385.6 215.3V227.1M383.1 215.3h5M383.1 227.1h5" stroke="#2e8f2e" stroke-width="1.0" fill="none"/>
<path d="M393.9 204.1V218.0M391.4 204.1h5M391.4 218.0h5" stroke="#2e8f2e" stroke-width="1.0" fill="none"/>
<path d="M277.8 219.3V230.5M275.3 219.3h5M275.3 230.5h5" stroke="#2e8f2e" stroke-width="1.0" fill="none"/>
<path d="M344.2 215.5V228.2M341.7 215.5h5M341.7 228.2h5" stroke="#2e8f2e" stroke-width="1.0" fill="none"/>
<path d="M387.3 218.8V229.3M384.8 218.8h5M384.8 229.3h5" stroke="#2e8f2e" stroke-width="1.0" fill="none"/>
<path d="M390.9 216.5V228.3M388.4 216.5h5M388.4 228.3h5" stroke="#2e8f2e" stroke-width="1.0" fill="none"/>
<path d="M373.3 214.3V223.3M370.8 214.3h5M370.8 223.3h5" stroke="#2e8f2e" stroke-width="1.0" fill="none"/>
<path d="M344.8 222.8V232.5M342.3 222.8h5M342.3 232.5h5" stroke="#2e8f2e" stroke-width="1.0" fill="none"/>
<path d="M526.9 203.8V217.3M524.4 203.8h5M524.4 217.3h5" stroke="#2e8f2e" stroke-width="1.0" fill="none"/>
<path d="M302.1 227.6V237.1M299.6 227.6h5M299.6 237.1h5" stroke="#2e8f2e" stroke-width="1.0" fill="none"/>
<path d="M488.2 202.0V211.7M485.7 202.0h5M485.7 211.7h5" stroke="#2e8f2e" stroke-width="1.0" fill="none"/>
<path d="M543.9 190.1V201.1M541.4 190.1h5M541.4 201.1h5" stroke="#2e8f2e" stroke-width="1.0" fill="none"/>
<path d="M483.7 209.3V216.6M481.2 209.3h5M481.2 216.6h5" stroke="#2e8f2e" stroke-width="1.0" fill="none"/>
<path d="M414.0 206.1V213.7M411.5 206.1h5M411.5 213.7h5" stroke="#2e8f2e" stroke-width="1.0" fill="none"/>
<path d="M362.0 205.3V219.7M359.5 205.3h5M359.5 219.7h5" stroke="#2e8f2e" stroke-width="1.0" fill="none"/>
<path d="M465.4 204.5V215.4M462.9 204.5h5M462.9 215.4h5" stroke="#2e8f2e" stroke-width="1.0" fill="none"/>
<path d="M196.8 178.1V239.4M194.1 178.1h5.5M194.1 239.4h5.5" stroke="#505050" stroke-width="1.2" fill="none"/>
<path d="M297.0 191.0V206.0M294.0 191.0h6M294.0 206.0h6" stroke="#8080ff" stroke-width="1.3" fill="none"/>
<path d="M337.5 198.0V242.0M334.8 198.0h5.5M334.8 242.0h5.5" stroke="#b070c0" stroke-width="1.1" fill="none"/>
<path d="M356.5 192.0V243.5M353.8 192.0h5.5M353.8 243.5h5.5" stroke="#b070c0" stroke-width="1.1" fill="none"/>
<path d="M359.0 194.0V243.0M356.2 194.0h5.5M356.2 243.0h5.5" stroke="#b070c0" stroke-width="1.1" fill="none"/>
<path d="M371.0 198.5V236.0M368.2 198.5h5.5M368.2 236.0h5.5" stroke="#b070c0" stroke-width="1.1" fill="none"/>
<path d="M310.0 200.0V238.0M307.5 200.0h5M307.5 238.0h5" stroke="#b070c0" stroke-width="1.0" fill="none"/>
<path d="M553.0 185.0V200.0M550.0 185.0h6M550.0 200.0h6" stroke="#2e8f2e" stroke-width="1.0" fill="none"/>
<path d="M326.0 192.0V215.0M323.0 192.0h6M323.0 215.0h6" stroke="#2e8f2e" stroke-width="1.2" fill="none"/>
<path d="M263.0 195.5V212.0M260.0 195.5h6M260.0 212.0h6" stroke="#2e8f2e" stroke-width="1.2" fill="none"/>
<path d="M449.0 200.5h9M453.5 196.0v9" stroke="#0a7d0a" stroke-width="2"/>
<path d="M275.6 218.0h9M280.1 213.5v9" stroke="#0a7d0a" stroke-width="2"/>
<path d="M324.3 218.1h9M328.8 213.6v9" stroke="#087008" stroke-width="2"/>
<path d="M259.3 212.0h9M263.8 207.5v9" stroke="#0a7d0a" stroke-width="2"/>
<path d="M386.4 219.3h9M390.9 214.8v9" stroke="#0a7c0a" stroke-width="2"/>
<path d="M409.6 200.3h9M414.1 195.8v9" stroke="#0a7d0a" stroke-width="2"/>
<path d="M549.0 200.3h9M553.5 195.8v9" stroke="#087008" stroke-width="2"/>
<path d="M257.4 226.3h9M261.9 221.8v9" stroke="#0a7d0a" stroke-width="2"/>
<path d="M552.1 210.4h9M556.6 205.9v9" stroke="#0a7c0a" stroke-width="2"/>
<path d="M271.3 217.6h9M275.8 213.1v9" stroke="#0a7d0a" stroke-width="2"/>
<path d="M300.4 207.9h9M304.9 203.4v9" stroke="#0a7d0a" stroke-width="2"/>
<path d="M436.2 193.3h9M440.7 188.8v9" stroke="#0a7d0a" stroke-width="2"/>
<path d="M365.8 213.9h9M370.3 209.4v9" stroke="#066606" stroke-width="2"/>
<path d="M337.8 222.6h9M342.3 218.1v9" stroke="#0c800c" stroke-width="2"/>
<path d="M383.5 212.2h9M388.0 207.7v9" stroke="#087008" stroke-width="2"/>
<path d="M493.5 202.8h9M498.0 198.3v9" stroke="#0a7c0a" stroke-width="2"/>
<path d="M332.6 228.7h9M337.1 224.2v9" stroke="#0a7c0a" stroke-width="2"/>
<path d="M264.2 209.1h9M268.7 204.6v9" stroke="#0a7d0a" stroke-width="2"/>
<path d="M491.2 197.5h9M495.7 193.0v9" stroke="#0c800c" stroke-width="2"/>
<path d="M335.2 221.1h9M339.7 216.6v9" stroke="#0c800c" stroke-width="2"/>
<path d="M363.7 222.4h9M368.2 217.9v9" stroke="#087008" stroke-width="2"/>
<path d="M276.0 209.3h9M280.5 204.8v9" stroke="#0a7d0a" stroke-width="2"/>
<path d="M509.9 198.6h9M514.4 194.1v9" stroke="#0a7c0a" stroke-width="2"/>
<path d="M345.3 216.6h9M349.8 212.1v9" stroke="#0c800c" stroke-width="2"/>
<path d="M460.9 194.7h9M465.4 190.2v9" stroke="#0a7d0a" stroke-width="2"/>
<path d="M262.7 207.3h9M267.2 202.8v9" stroke="#0a7d0a" stroke-width="2"/>
<path d="M239.1 226.1h9M243.6 221.6v9" stroke="#0a7d0a" stroke-width="2"/>
<path d="M355.0 225.2h9M359.5 220.7v9" stroke="#087008" stroke-width="2"/>
<path d="M298.3 210.9h9M302.8 206.4v9" stroke="#0a7d0a" stroke-width="2"/>
<path d="M485.8 198.4h9M490.3 193.9v9" stroke="#0a7c0a" stroke-width="2"/>
<path d="M481.8 204.2h9M486.3 199.7v9" stroke="#087008" stroke-width="2"/>
<path d="M456.6 203.0h9M461.1 198.5v9" stroke="#0a7d0a" stroke-width="2"/>
<path d="M259.2 225.3h9M263.7 220.8v9" stroke="#0a7d0a" stroke-width="2"/>
<path d="M287.0 209.9h9M291.5 205.4v9" stroke="#0a7d0a" stroke-width="2"/>
<path d="M402.2 205.5h9M406.7 201.0v9" stroke="#0a7d0a" stroke-width="2"/>
<path d="M386.2 210.7h9M390.7 206.2v9" stroke="#0a7c0a" stroke-width="2"/>
<path d="M292.7 218.4h9M297.2 213.9v9" stroke="#0a7d0a" stroke-width="2"/>
<path d="M419.9 197.9h9M424.4 193.4v9" stroke="#0a7d0a" stroke-width="2"/>
<path d="M388.5 215.8h9M393.0 211.3v9" stroke="#066606" stroke-width="2"/>
<path d="M370.2 225.0h9M374.7 220.5v9" stroke="#0c800c" stroke-width="2"/>
<path d="M451.6 199.6h9M456.1 195.1v9" stroke="#0a7d0a" stroke-width="2"/>
<path d="M252.6 208.1h9M257.1 203.6v9" stroke="#0a7d0a" stroke-width="2"/>
<path d="M417.2 208.0h9M421.7 203.5v9" stroke="#0a7c0a" stroke-width="2"/>
<path d="M370.5 211.4h9M375.0 206.9v9" stroke="#0a7608" stroke-width="2"/>
<path d="M293.3 224.6h9M297.8 220.1v9" stroke="#0a7d0a" stroke-width="2"/>
<path d="M515.9 199.6h9M520.4 195.1v9" stroke="#0a7608" stroke-width="2"/>
<path d="M464.0 195.6h9M468.5 191.1v9" stroke="#0a7d0a" stroke-width="2"/>
<path d="M267.2 220.7h9M271.7 216.2v9" stroke="#0a7d0a" stroke-width="2"/>
<path d="M453.7 194.5h9M458.2 190.0v9" stroke="#0a7d0a" stroke-width="2"/>
<path d="M360.2 215.2h9M364.7 210.7v9" stroke="#0a7c0a" stroke-width="2"/>
<rect x="366.2" y="213.2" width="1.2" height="3" fill="#111"/>
<path d="M241.8 208.0h9M246.3 203.5v9" stroke="#0a7d0a" stroke-width="2"/>
<path d="M238.2 210.6h9M242.7 206.1v9" stroke="#0a7d0a" stroke-width="2"/>
<path d="M257.2 212.4h9M261.7 207.9v9" stroke="#0a7d0a" stroke-width="2"/>
<path d="M339.6 216.0h9M344.1 211.5v9" stroke="#0c800c" stroke-width="2"/>
<path d="M237.2 227.5h9M241.7 223.0v9" stroke="#0a7d0a" stroke-width="2"/>
<path d="M264.0 224.5h9M268.5 220.0v9" stroke="#0a7d0a" stroke-width="2"/>
<path d="M549.6 207.0h9M554.1 202.5v9" stroke="#0a7608" stroke-width="2"/>
<path d="M270.5 212.3h9M275.0 207.8v9" stroke="#0a7d0a" stroke-width="2"/>
<path d="M239.9 218.2h9M244.4 213.7v9" stroke="#0a7d0a" stroke-width="2"/>
<path d="M415.8 207.9h9M420.3 203.4v9" stroke="#0a7608" stroke-width="2"/>
<path d="M479.4 198.6h9M483.9 194.1v9" stroke="#0a7608" stroke-width="2"/>
<rect x="484.0" y="197.7" width="1.2" height="3" fill="#111"/>
<path d="M373.1 212.2h9M377.6 207.7v9" stroke="#087008" stroke-width="2"/>
<path d="M284.0 211.5h9M288.5 207.0v9" stroke="#0a7d0a" stroke-width="2"/>
<path d="M496.5 197.7h9M501.0 193.2v9" stroke="#066606" stroke-width="2"/>
<path d="M439.4 202.1h9M443.9 197.6v9" stroke="#0a7d0a" stroke-width="2"/>
<path d="M335.3 212.4h9M339.8 207.9v9" stroke="#0a7d0a" stroke-width="2"/>
<path d="M274.2 208.2h9M278.7 203.7v9" stroke="#0a7d0a" stroke-width="2"/>
<path d="M403.8 209.6h9M408.3 205.1v9" stroke="#0a7d0a" stroke-width="2"/>
<path d="M296.5 215.4h9M301.0 210.9v9" stroke="#0a7d0a" stroke-width="2"/>
<path d="M509.0 211.4h9M513.5 206.9v9" stroke="#0a7c0a" stroke-width="2"/>
<path d="M248.6 208.5h9M253.1 204.0v9" stroke="#0a7d0a" stroke-width="2"/>
<path d="M267.1 211.4h9M271.6 206.9v9" stroke="#0a7d0a" stroke-width="2"/>
<path d="M318.9 211.9h9M323.4 207.4v9" stroke="#0a7d0a" stroke-width="2"/>
<path d="M252.6 225.6h9M257.1 221.1v9" stroke="#0a7d0a" stroke-width="2"/>
<path d="M529.0 198.7h9M533.5 194.2v9" stroke="#0a7c0a" stroke-width="2"/>
<path d="M345.4 220.1h6.2l-3.1 5.4z" fill="#1414e0"/>
<path d="M248.8 211.9h6.2l-3.1 5.4z" fill="#1414e0"/>
<path d="M256.2 221.2h6.2l-3.1 5.4z" fill="#1414e0"/>
<path d="M255.2 205.4h6.2l-3.1 5.4z" fill="#1414e0"/>
<path d="M282.8 220.4h6.2l-3.1 5.4z" fill="#1414e0"/>
<path d="M294.2 209.8h6.2l-3.1 5.4z" fill="#1414e0"/>
<path d="M487.7 199.7h6.2l-3.1 5.4z" fill="#1414e0"/>
<path d="M444.1 191.0h6.2l-3.1 5.4z" fill="#1414e0"/>
<path d="M419.2 209.8h6.2l-3.1 5.4z" fill="#1414e0"/>
<rect x="420.9" y="211.5" width="1.2" height="3" fill="#111"/>
<path d="M286.6 223.0h6.2l-3.1 5.4z" fill="#1414e0"/>
<path d="M432.3 194.9h6.2l-3.1 5.4z" fill="#1414e0"/>
<path d="M320.1 213.8h6.2l-3.1 5.4z" fill="#1414e0"/>
<path d="M460.1 198.2h6.2l-3.1 5.4z" fill="#1414e0"/>
<path d="M435.4 200.5h6.2l-3.1 5.4z" fill="#1414e0"/>
<path d="M255.6 217.2h6.2l-3.1 5.4z" fill="#1414e0"/>
<path d="M245.9 208.6h6.2l-3.1 5.4z" fill="#1414e0"/>
<path d="M250.8 213.8h6.2l-3.1 5.4z" fill="#1414e0"/>
<path d="M429.6 196.8h6.2l-3.1 5.4z" fill="#1414e0"/>
<path d="M272.7 219.3h6.2l-3.1 5.4z" fill="#1414e0"/>
<path d="M342.9 211.6h6.2l-3.1 5.4z" fill="#1414e0"/>
<path d="M454.9 200.6h6.2l-3.1 5.4z" fill="#1414e0"/>
<path d="M249.3 209.4h6.2l-3.1 5.4z" fill="#1414e0"/>
<path d="M463.4 201.8h6.2l-3.1 5.4z" fill="#1414e0"/>
<path d="M448.1 196.5h6.2l-3.1 5.4z" fill="#1414e0"/>
<rect x="450.8" y="196.0" width="1.2" height="3" fill="#111"/>
<path d="M289.9 223.4h6.2l-3.1 5.4z" fill="#1414e0"/>
<path d="M359.8 217.3h6.2l-3.1 5.4z" fill="#1414e0"/>
<path d="M279.8 224.0h6.2l-3.1 5.4z" fill="#1414e0"/>
<path d="M424.1 192.8h6.2l-3.1 5.4z" fill="#1414e0"/>
<path d="M414.3 200.9h6.2l-3.1 5.4z" fill="#1414e0"/>
<path d="M274.7 216.6h6.2l-3.1 5.4z" fill="#1414e0"/>
<rect x="275.3" y="217.0" width="1.2" height="3" fill="#111"/>
<path d="M282.9 213.9h6.2l-3.1 5.4z" fill="#1414e0"/>
<path d="M280.4 213.0h6.2l-3.1 5.4z" fill="#1414e0"/>
<rect x="284.3" y="216.0" width="1.2" height="3" fill="#111"/>
<path d="M297.5 210.1h6.2l-3.1 5.4z" fill="#1414e0"/>
<path d="M418.9 196.1h6.2l-3.1 5.4z" fill="#1414e0"/>
<path d="M257.5 206.8h6.2l-3.1 5.4z" fill="#1414e0"/>
<path d="M263.6 214.2h6.2l-3.1 5.4z" fill="#1414e0"/>
<path d="M286.5 218.3h6.2l-3.1 5.4z" fill="#1414e0"/>
<path d="M353.5 217.1h6.2l-3.1 5.4z" fill="#1414e0"/>
<path d="M239.0 213.0h6.2l-3.1 5.4z" fill="#1414e0"/>
<path d="M260.5 207.1h6.2l-3.1 5.4z" fill="#1414e0"/>
<path d="M239.1 216.6h6.2l-3.1 5.4z" fill="#1414e0"/>
<path d="M303.3 229.0h6.2l-3.1 5.4z" fill="#1414e0"/>
<path d="M330.4 225.5h6.2l-3.1 5.4z" fill="#1414e0"/>
<rect x="333.6" y="225.8" width="1.2" height="3" fill="#111"/>
<path d="M283.7 211.1h6.2l-3.1 5.4z" fill="#1414e0"/>
<path d="M246.7 211.6h6.2l-3.1 5.4z" fill="#1414e0"/>
<path d="M269.6 214.1h6.2l-3.1 5.4z" fill="#1414e0"/>
<path d="M266.9 211.9h6.2l-3.1 5.4z" fill="#1414e0"/>
<rect x="270.5" y="213.7" width="1.2" height="3" fill="#111"/>
<path d="M253.8 213.5h6.2l-3.1 5.4z" fill="#1414e0"/>
<path d="M291.5 213.8h6.2l-3.1 5.4z" fill="#1414e0"/>
<path d="M290.6 208.5h6.2l-3.1 5.4z" fill="#1414e0"/>
<path d="M408.5 208.2h6.2l-3.1 5.4z" fill="#1414e0"/>
<path d="M311.8 216.9h6.2l-3.1 5.4z" fill="#1414e0"/>
<path d="M416.5 199.9h6.2l-3.1 5.4z" fill="#1414e0"/>
<path d="M261.6 217.9h6.2l-3.1 5.4z" fill="#1414e0"/>
<path d="M277.7 217.8h6.2l-3.1 5.4z" fill="#1414e0"/>
<path d="M240.2 218.7h6.2l-3.1 5.4z" fill="#1414e0"/>
<path d="M376.9 218.1h6.2l-3.1 5.4z" fill="#1414e0"/>
<path d="M247.9 219.2h6.2l-3.1 5.4z" fill="#1414e0"/>
<path d="M441.7 194.6h6.2l-3.1 5.4z" fill="#1414e0"/>
<path d="M266.3 219.1h6.2l-3.1 5.4z" fill="#1414e0"/>
<path d="M243.5 214.7h6.2l-3.1 5.4z" fill="#1414e0"/>
<path d="M280.2 211.0h6.2l-3.1 5.4z" fill="#1414e0"/>
<path d="M375.4 223.5h6.2l-3.1 5.4z" fill="#1414e0"/>
<path d="M444.7 192.6h6.2l-3.1 5.4z" fill="#1414e0"/>
<path d="M406.1 205.9h6.2l-3.1 5.4z" fill="#1414e0"/>
<path d="M382.6 209.6h6.2l-3.1 5.4z" fill="#1414e0"/>
<path d="M246.1 217.4h6.2l-3.1 5.4z" fill="#1414e0"/>
<path d="M251.1 217.1h6.2l-3.1 5.4z" fill="#1414e0"/>
<rect x="254.8" y="219.0" width="1.2" height="3" fill="#111"/>
<path d="M458.4 197.7h6.2l-3.1 5.4z" fill="#1414e0"/>
<path d="M254.8 210.7h6.2l-3.1 5.4z" fill="#1414e0"/>
<path d="M398.4 205.4h6.2l-3.1 5.4z" fill="#1414e0"/>
<path d="M354.3 222.5h6.2l-3.1 5.4z" fill="#1414e0"/>
<path d="M427.3 196.0h6.2l-3.1 5.4z" fill="#1414e0"/>
<path d="M422.2 200.5h6.2l-3.1 5.4z" fill="#1414e0"/>
<path d="M429.9 192.5h6.2l-3.1 5.4z" fill="#1414e0"/>
<path d="M408.3 203.1h6.2l-3.1 5.4z" fill="#1414e0"/>
<path d="M424.0 199.1h6.2l-3.1 5.4z" fill="#1414e0"/>
<rect x="425.3" y="200.3" width="1.2" height="3" fill="#111"/>
<path d="M263.2 219.9h6.2l-3.1 5.4z" fill="#1414e0"/>
<path d="M291.6 222.1h6.2l-3.1 5.4z" fill="#1414e0"/>
<path d="M413.9 203.6h6.2l-3.1 5.4z" fill="#1414e0"/>
<path d="M243.2 218.1h6.2l-3.1 5.4z" fill="#1414e0"/>
<path d="M436.0 195.6h6.2l-3.1 5.4z" fill="#1414e0"/>
<path d="M263.3 221.8h6.2l-3.1 5.4z" fill="#1414e0"/>
<path d="M403.3 215.4h6.2l-3.1 5.4z" fill="#1414e0"/>
<rect x="406.6" y="217.1" width="1.2" height="3" fill="#111"/>
<path d="M240.3 209.5h6.2l-3.1 5.4z" fill="#1414e0"/>
<path d="M439.0 201.7h6.2l-3.1 5.4z" fill="#1414e0"/>
<path d="M435.0 192.8h6.2l-3.1 5.4z" fill="#1414e0"/>
<path d="M401.2 201.5h6.2l-3.1 5.4z" fill="#1414e0"/>
<rect x="403.5" y="204.4" width="1.2" height="3" fill="#111"/>
<path d="M353.8 209.8h6.2l-3.1 5.4z" fill="#1414e0"/>
<path d="M392.2 205.3h6.2l-3.1 5.4z" fill="#1414e0"/>
<path d="M253.8 215.6h6.2l-3.1 5.4z" fill="#1414e0"/>
<path d="M320.0 229.2h6.2l-3.1 5.4z" fill="#1414e0"/>
<path d="M399.1 210.1h6.2l-3.1 5.4z" fill="#1414e0"/>
<path d="M258.4 215.2h6.2l-3.1 5.4z" fill="#1414e0"/>
<path d="M296.9 230.2h6.2l-3.1 5.4z" fill="#1414e0"/>
<path d="M289.3 216.5h6.2l-3.1 5.4z" fill="#1414e0"/>
<rect x="308.8" y="206.5" width="6" height="6" fill="#7a1a80"/>
<rect x="303.9" y="209.7" width="6" height="6" fill="#7a1a80"/>
<rect x="327.9" y="206.6" width="6" height="6" fill="#7a1a80"/>
<rect x="245.6" y="225.3" width="6" height="6" fill="#7a1a80"/>
<rect x="322.3" y="208.1" width="6" height="6" fill="#7a1a80"/>
<rect x="250.2" y="220.4" width="6" height="6" fill="#7a1a80"/>
<rect x="333.1" y="209.8" width="6" height="6" fill="#7a1a80"/>
<rect x="331.0" y="209.4" width="6" height="6" fill="#7a1a80"/>
<rect x="315.5" y="204.5" width="6" height="6" fill="#7a1a80"/>
<rect x="244.2" y="221.8" width="6" height="6" fill="#7a1a80"/>
<rect x="317.3" y="205.3" width="6" height="6" fill="#7a1a80"/>
<rect x="325.2" y="209.7" width="6" height="6" fill="#7a1a80"/>
<rect x="249.1" y="221.7" width="6" height="6" fill="#7a1a80"/>
<path d="M310.4 212.9h9.6M315.2 208.1v9.6M311.8 209.5l6.8 6.8M318.6 209.5l-6.8 6.8" stroke="#066606" stroke-width="2.3"/>
<path d="M511.0 201.0h9.6M515.8 196.2v9.6M512.4 197.6l6.8 6.8M519.2 197.6l-6.8 6.8" stroke="#0a7608" stroke-width="2.3"/>
<path d="M547.2 196.5h9.6M552.0 191.7v9.6M548.6 193.1l6.8 6.8M555.4 193.1l-6.8 6.8" stroke="#087008" stroke-width="2.3"/>
<path d="M300.4 222.9h9.6M305.2 218.1v9.6M301.8 219.5l6.8 6.8M308.6 219.5l-6.8 6.8" stroke="#0a7608" stroke-width="2.3"/>
<path d="M523.0 203.3h9.6M527.8 198.5v9.6M524.4 199.9l6.8 6.8M531.2 199.9l-6.8 6.8" stroke="#0a7c0a" stroke-width="2.3"/>
<path d="M301.7 222.7h9.6M306.5 217.9v9.6M303.1 219.3l6.8 6.8M309.9 219.3l-6.8 6.8" stroke="#087008" stroke-width="2.3"/>
<path d="M533.9 194.7h9.6M538.7 189.9v9.6M535.3 191.3l6.8 6.8M542.1 191.3l-6.8 6.8" stroke="#087008" stroke-width="2.3"/>
<path d="M503.3 203.3h9.6M508.1 198.5v9.6M504.7 199.9l6.8 6.8M511.5 199.9l-6.8 6.8" stroke="#0c800c" stroke-width="2.3"/>
<path d="M501.8 209.9h9.6M506.6 205.1v9.6M503.2 206.5l6.8 6.8M510.0 206.5l-6.8 6.8" stroke="#0a7c0a" stroke-width="2.3"/>
<path d="M341.1 219.0h9.6M345.9 214.2v9.6M342.5 215.6l6.8 6.8M349.3 215.6l-6.8 6.8" stroke="#0a7c0a" stroke-width="2.3"/>
<path d="M270.2 229.0h9.6M275.0 224.2v9.6M271.6 225.6l6.8 6.8M278.4 225.6l-6.8 6.8" stroke="#0c800c" stroke-width="2.3"/>
<path d="M355.0 217.4h9.6M359.8 212.6v9.6M356.4 214.0l6.8 6.8M363.2 214.0l-6.8 6.8" stroke="#0a7608" stroke-width="2.3"/>
<path d="M375.3 223.1h9.6M380.1 218.3v9.6M376.7 219.7l6.8 6.8M383.5 219.7l-6.8 6.8" stroke="#0c800c" stroke-width="2.3"/>
<path d="M541.6 195.6h9.6M546.4 190.8v9.6M543.0 192.2l6.8 6.8M549.8 192.2l-6.8 6.8" stroke="#0a7c0a" stroke-width="2.3"/>
<path d="M399.0 213.0h9.6M403.8 208.2v9.6M400.4 209.6l6.8 6.8M407.2 209.6l-6.8 6.8" stroke="#0a7c0a" stroke-width="2.3"/>
<path d="M456.7 214.9h9.6M461.5 210.1v9.6M458.1 211.5l6.8 6.8M464.9 211.5l-6.8 6.8" stroke="#0a7c0a" stroke-width="2.3"/>
<rect x="459.6" y="211.7" width="1.2" height="3" fill="#111"/>
<path d="M493.0 211.0h9.6M497.8 206.2v9.6M494.4 207.6l6.8 6.8M501.2 207.6l-6.8 6.8" stroke="#0a7608" stroke-width="2.3"/>
<path d="M342.2 223.1h9.6M347.0 218.3v9.6M343.6 219.7l6.8 6.8M350.4 219.7l-6.8 6.8" stroke="#0a7c0a" stroke-width="2.3"/>
<path d="M531.1 197.7h9.6M535.9 192.9v9.6M532.5 194.3l6.8 6.8M539.3 194.3l-6.8 6.8" stroke="#0c800c" stroke-width="2.3"/>
<path d="M466.7 212.4h9.6M471.5 207.6v9.6M468.1 209.0l6.8 6.8M474.9 209.0l-6.8 6.8" stroke="#0c800c" stroke-width="2.3"/>
<path d="M533.8 207.2h9.6M538.6 202.4v9.6M535.2 203.8l6.8 6.8M542.0 203.8l-6.8 6.8" stroke="#0c800c" stroke-width="2.3"/>
<path d="M299.3 232.7h9.6M304.1 227.9v9.6M300.7 229.3l6.8 6.8M307.5 229.3l-6.8 6.8" stroke="#0a7608" stroke-width="2.3"/>
<path d="M284.4 228.7h9.6M289.2 223.9v9.6M285.8 225.3l6.8 6.8M292.6 225.3l-6.8 6.8" stroke="#087008" stroke-width="2.3"/>
<path d="M414.4 213.1h9.6M419.2 208.3v9.6M415.8 209.7l6.8 6.8M422.6 209.7l-6.8 6.8" stroke="#0a7608" stroke-width="2.3"/>
<path d="M528.4 200.8h9.6M533.2 196.0v9.6M529.8 197.4l6.8 6.8M536.6 197.4l-6.8 6.8" stroke="#0c800c" stroke-width="2.3"/>
<path d="M369.5 217.8h9.6M374.3 213.0v9.6M370.9 214.4l6.8 6.8M377.7 214.4l-6.8 6.8" stroke="#0c800c" stroke-width="2.3"/>
<path d="M525.8 209.4h9.6M530.6 204.6v9.6M527.2 206.0l6.8 6.8M534.0 206.0l-6.8 6.8" stroke="#066606" stroke-width="2.3"/>
<path d="M401.0 213.7h9.6M405.8 208.9v9.6M402.4 210.3l6.8 6.8M409.2 210.3l-6.8 6.8" stroke="#066606" stroke-width="2.3"/>
<path d="M320.4 226.3h9.6M325.2 221.5v9.6M321.8 222.9l6.8 6.8M328.6 222.9l-6.8 6.8" stroke="#0c800c" stroke-width="2.3"/>
<path d="M495.0 207.3h9.6M499.8 202.5v9.6M496.4 203.9l6.8 6.8M503.2 203.9l-6.8 6.8" stroke="#0a7608" stroke-width="2.3"/>
<path d="M536.0 214.4h9.6M540.8 209.6v9.6M537.4 211.0l6.8 6.8M544.2 211.0l-6.8 6.8" stroke="#0c800c" stroke-width="2.3"/>
<rect x="538.8" y="213.3" width="1.2" height="3" fill="#111"/>
<path d="M450.6 206.3h9.6M455.4 201.5v9.6M452.0 202.9l6.8 6.8M458.8 202.9l-6.8 6.8" stroke="#0a7c0a" stroke-width="2.3"/>
<path d="M487.8 198.0h9.6M492.6 193.2v9.6M489.2 194.6l6.8 6.8M496.0 194.6l-6.8 6.8" stroke="#0c800c" stroke-width="2.3"/>
<rect x="492.5" y="196.2" width="1.2" height="3" fill="#111"/>
<path d="M476.2 214.0h9.6M481.0 209.2v9.6M477.6 210.6l6.8 6.8M484.4 210.6l-6.8 6.8" stroke="#0c800c" stroke-width="2.3"/>
<path d="M305.2 219.5h9.6M310.0 214.7v9.6M306.6 216.1l6.8 6.8M313.4 216.1l-6.8 6.8" stroke="#066606" stroke-width="2.3"/>
<path d="M449.5 213.9h9.6M454.3 209.1v9.6M450.9 210.5l6.8 6.8M457.7 210.5l-6.8 6.8" stroke="#066606" stroke-width="2.3"/>
<path d="M513.7 208.3h9.6M518.5 203.5v9.6M515.1 204.9l6.8 6.8M521.9 204.9l-6.8 6.8" stroke="#0a7c0a" stroke-width="2.3"/>
<path d="M347.0 224.5h9.6M351.8 219.7v9.6M348.4 221.1l6.8 6.8M355.2 221.1l-6.8 6.8" stroke="#0a7c0a" stroke-width="2.3"/>
<path d="M337.7 213.9h9.6M342.5 209.1v9.6M339.1 210.5l6.8 6.8M345.9 210.5l-6.8 6.8" stroke="#0a7608" stroke-width="2.3"/>
<rect x="342.7" y="211.0" width="1.2" height="3" fill="#111"/>
<path d="M449.5 205.2h9.6M454.3 200.4v9.6M450.9 201.8l6.8 6.8M457.7 201.8l-6.8 6.8" stroke="#087008" stroke-width="2.3"/>
<path d="M431.4 205.8h9.6M436.2 201.0v9.6M432.8 202.4l6.8 6.8M439.6 202.4l-6.8 6.8" stroke="#0a7c0a" stroke-width="2.3"/>
<path d="M474.3 202.3h9.6M479.1 197.5v9.6M475.7 198.9l6.8 6.8M482.5 198.9l-6.8 6.8" stroke="#087008" stroke-width="2.3"/>
<path d="M547.5 201.9h9.6M552.3 197.1v9.6M548.9 198.5l6.8 6.8M555.7 198.5l-6.8 6.8" stroke="#0c800c" stroke-width="2.3"/>
<path d="M513.4 198.1h9.6M518.2 193.3v9.6M514.8 194.7l6.8 6.8M521.6 194.7l-6.8 6.8" stroke="#066606" stroke-width="2.3"/>
<path d="M428.1 208.9h9.6M432.9 204.1v9.6M429.5 205.5l6.8 6.8M436.3 205.5l-6.8 6.8" stroke="#087008" stroke-width="2.3"/>
<path d="M528.4 207.7h9.6M533.2 202.9v9.6M529.8 204.3l6.8 6.8M536.6 204.3l-6.8 6.8" stroke="#0a7c0a" stroke-width="2.3"/>
<path d="M506.1 201.2h9.6M510.9 196.4v9.6M507.5 197.8l6.8 6.8M514.3 197.8l-6.8 6.8" stroke="#066606" stroke-width="2.3"/>
<path d="M482.6 198.9h9.6M487.4 194.1v9.6M484.0 195.5l6.8 6.8M490.8 195.5l-6.8 6.8" stroke="#087008" stroke-width="2.3"/>
<path d="M436.6 202.5h9.6M441.4 197.7v9.6M438.0 199.1l6.8 6.8M444.8 199.1l-6.8 6.8" stroke="#0a7c0a" stroke-width="2.3"/>
<path d="M530.4 202.3h9.6M535.2 197.5v9.6M531.8 198.9l6.8 6.8M538.6 198.9l-6.8 6.8" stroke="#087008" stroke-width="2.3"/>
<path d="M518.7 207.0h9.6M523.5 202.2v9.6M520.1 203.6l6.8 6.8M526.9 203.6l-6.8 6.8" stroke="#066606" stroke-width="2.3"/>
<path d="M290.1 230.6h9.6M294.9 225.8v9.6M291.5 227.2l6.8 6.8M298.3 227.2l-6.8 6.8" stroke="#0a7c0a" stroke-width="2.3"/>
<path d="M313.6 225.3h9.6M318.4 220.5v9.6M315.0 221.9l6.8 6.8M321.8 221.9l-6.8 6.8" stroke="#0a7c0a" stroke-width="2.3"/>
<path d="M525.8 197.0h9.6M530.6 192.2v9.6M527.2 193.6l6.8 6.8M534.0 193.6l-6.8 6.8" stroke="#087008" stroke-width="2.3"/>
<path d="M397.4 219.9h9.6M402.2 215.1v9.6M398.8 216.5l6.8 6.8M405.6 216.5l-6.8 6.8" stroke="#0a7c0a" stroke-width="2.3"/>
<rect x="399.9" y="219.0" width="1.2" height="3" fill="#111"/>
<path d="M346.8 222.2h9.6M351.6 217.4v9.6M348.2 218.8l6.8 6.8M355.0 218.8l-6.8 6.8" stroke="#066606" stroke-width="2.3"/>
<path d="M466.4 206.8h9.6M471.2 202.0v9.6M467.8 203.4l6.8 6.8M474.6 203.4l-6.8 6.8" stroke="#087008" stroke-width="2.3"/>
<path d="M493.9 203.1h9.6M498.7 198.3v9.6M495.3 199.7l6.8 6.8M502.1 199.7l-6.8 6.8" stroke="#0a7608" stroke-width="2.3"/>
<path d="M486.4 211.6h9.6M491.2 206.8v9.6M487.8 208.2l6.8 6.8M494.6 208.2l-6.8 6.8" stroke="#066606" stroke-width="2.3"/>
<path d="M495.0 211.9h9.6M499.8 207.1v9.6M496.4 208.5l6.8 6.8M503.2 208.5l-6.8 6.8" stroke="#066606" stroke-width="2.3"/>
<path d="M467.7 202.1h9.6M472.5 197.3v9.6M469.1 198.7l6.8 6.8M475.9 198.7l-6.8 6.8" stroke="#0a7c0a" stroke-width="2.3"/>
<path d="M446.1 216.0h9.6M450.9 211.2v9.6M447.5 212.6l6.8 6.8M454.3 212.6l-6.8 6.8" stroke="#087008" stroke-width="2.3"/>
<path d="M487.7 205.4h9.6M492.5 200.6v9.6M489.1 202.0l6.8 6.8M495.9 202.0l-6.8 6.8" stroke="#0a7608" stroke-width="2.3"/>
<path d="M377.3 225.7h9.6M382.1 220.9v9.6M378.7 222.3l6.8 6.8M385.5 222.3l-6.8 6.8" stroke="#0a7c0a" stroke-width="2.3"/>
<path d="M412.5 219.2h9.6M417.3 214.4v9.6M413.9 215.8l6.8 6.8M420.7 215.8l-6.8 6.8" stroke="#0a7c0a" stroke-width="2.3"/>
<path d="M470.8 205.3h9.6M475.6 200.5v9.6M472.2 201.9l6.8 6.8M479.0 201.9l-6.8 6.8" stroke="#087008" stroke-width="2.3"/>
<path d="M523.7 209.1h9.6M528.5 204.3v9.6M525.1 205.7l6.8 6.8M531.9 205.7l-6.8 6.8" stroke="#0a7608" stroke-width="2.3"/>
<path d="M514.0 202.1h9.6M518.8 197.3v9.6M515.4 198.7l6.8 6.8M522.2 198.7l-6.8 6.8" stroke="#0a7608" stroke-width="2.3"/>
<path d="M542.1 204.9h9.6M546.9 200.1v9.6M543.5 201.5l6.8 6.8M550.3 201.5l-6.8 6.8" stroke="#087008" stroke-width="2.3"/>
<path d="M391.2 220.1h9.6M396.0 215.3v9.6M392.6 216.7l6.8 6.8M399.4 216.7l-6.8 6.8" stroke="#0a7608" stroke-width="2.3"/>
<path d="M512.2 208.2h9.6M517.0 203.4v9.6M513.6 204.8l6.8 6.8M520.4 204.8l-6.8 6.8" stroke="#087008" stroke-width="2.3"/>
<path d="M277.7 231.0h9.6M282.5 226.2v9.6M279.1 227.6l6.8 6.8M285.9 227.6l-6.8 6.8" stroke="#0c800c" stroke-width="2.3"/>
<path d="M347.0 212.3h9.6M351.8 207.5v9.6M348.4 208.9l6.8 6.8M355.2 208.9l-6.8 6.8" stroke="#0c800c" stroke-width="2.3"/>
<path d="M375.3 214.7h9.6M380.1 209.9v9.6M376.7 211.3l6.8 6.8M383.5 211.3l-6.8 6.8" stroke="#087008" stroke-width="2.3"/>
<path d="M472.0 208.2h9.6M476.8 203.4v9.6M473.4 204.8l6.8 6.8M480.2 204.8l-6.8 6.8" stroke="#0a7c0a" stroke-width="2.3"/>
<path d="M551.5 200.3h9.6M556.3 195.5v9.6M552.9 196.9l6.8 6.8M559.7 196.9l-6.8 6.8" stroke="#087008" stroke-width="2.3"/>
<path d="M548.7 196.7h9.6M553.5 191.9v9.6M550.1 193.3l6.8 6.8M556.9 193.3l-6.8 6.8" stroke="#066606" stroke-width="2.3"/>
<path d="M546.7 208.3h9.6M551.5 203.5v9.6M548.1 204.9l6.8 6.8M554.9 204.9l-6.8 6.8" stroke="#066606" stroke-width="2.3"/>
<path d="M348.3 215.6h9.6M353.1 210.8v9.6M349.7 212.2l6.8 6.8M356.5 212.2l-6.8 6.8" stroke="#0c800c" stroke-width="2.3"/>
<rect x="351.5" y="214.5" width="1.2" height="3" fill="#111"/>
<path d="M425.7 202.1h9.6M430.5 197.3v9.6M427.1 198.7l6.8 6.8M433.9 198.7l-6.8 6.8" stroke="#087008" stroke-width="2.3"/>
<path d="M323.4 224.3h9.6M328.2 219.5v9.6M324.8 220.9l6.8 6.8M331.6 220.9l-6.8 6.8" stroke="#0a7608" stroke-width="2.3"/>
<path d="M476.6 200.9h9.6M481.4 196.1v9.6M478.0 197.5l6.8 6.8M484.8 197.5l-6.8 6.8" stroke="#0a7608" stroke-width="2.3"/>
<path d="M388.2 225.5h9.6M393.0 220.7v9.6M389.6 222.1l6.8 6.8M396.4 222.1l-6.8 6.8" stroke="#0a7608" stroke-width="2.3"/>
<path d="M383.2 215.8h9.6M388.0 211.0v9.6M384.6 212.4l6.8 6.8M391.4 212.4l-6.8 6.8" stroke="#066606" stroke-width="2.3"/>
<path d="M482.7 209.2h9.6M487.5 204.4v9.6M484.1 205.8l6.8 6.8M490.9 205.8l-6.8 6.8" stroke="#0c800c" stroke-width="2.3"/>
<path d="M450.8 209.9h9.6M455.6 205.1v9.6M452.2 206.5l6.8 6.8M459.0 206.5l-6.8 6.8" stroke="#0c800c" stroke-width="2.3"/>
<path d="M515.4 204.9h9.6M520.2 200.1v9.6M516.8 201.5l6.8 6.8M523.6 201.5l-6.8 6.8" stroke="#0c800c" stroke-width="2.3"/>
<path d="M458.6 213.6h9.6M463.4 208.8v9.6M460.0 210.2l6.8 6.8M466.8 210.2l-6.8 6.8" stroke="#0c800c" stroke-width="2.3"/>
<path d="M536.6 196.0h9.6M541.4 191.2v9.6M538.0 192.6l6.8 6.8M544.8 192.6l-6.8 6.8" stroke="#0c800c" stroke-width="2.3"/>
<path d="M292.8 233.7h9.6M297.6 228.9v9.6M294.2 230.3l6.8 6.8M301.0 230.3l-6.8 6.8" stroke="#087008" stroke-width="2.3"/>
<path d="M468.5 195.5h9.6M473.3 190.7v9.6M469.9 192.1l6.8 6.8M476.7 192.1l-6.8 6.8" stroke="#066606" stroke-width="2.3"/>
<path d="M534.4 214.3h9.6M539.2 209.5v9.6M535.8 210.9l6.8 6.8M542.6 210.9l-6.8 6.8" stroke="#0a7c0a" stroke-width="2.3"/>
<path d="M521.0 206.5h9.6M525.8 201.7v9.6M522.4 203.1l6.8 6.8M529.2 203.1l-6.8 6.8" stroke="#0c800c" stroke-width="2.3"/>
<path d="M525.5 205.1h9.6M530.3 200.3v9.6M526.9 201.7l6.8 6.8M533.7 201.7l-6.8 6.8" stroke="#087008" stroke-width="2.3"/>
<path d="M445.5 206.9h9.6M450.3 202.1v9.6M446.9 203.5l6.8 6.8M453.7 203.5l-6.8 6.8" stroke="#0c800c" stroke-width="2.3"/>
<path d="M505.8 208.5h9.6M510.6 203.7v9.6M507.2 205.1l6.8 6.8M514.0 205.1l-6.8 6.8" stroke="#0a7c0a" stroke-width="2.3"/>
<path d="M489.6 214.3h9.6M494.4 209.5v9.6M491.0 210.9l6.8 6.8M497.8 210.9l-6.8 6.8" stroke="#0a7608" stroke-width="2.3"/>
<path d="M481.2 199.8h9.6M486.0 195.0v9.6M482.6 196.4l6.8 6.8M489.4 196.4l-6.8 6.8" stroke="#0a7c0a" stroke-width="2.3"/>
<path d="M363.0 211.9h9.6M367.8 207.1v9.6M364.4 208.5l6.8 6.8M371.2 208.5l-6.8 6.8" stroke="#066606" stroke-width="2.3"/>
<path d="M490.2 202.9h9.6M495.0 198.1v9.6M491.6 199.5l6.8 6.8M498.4 199.5l-6.8 6.8" stroke="#0a7c0a" stroke-width="2.3"/>
<path d="M474.2 209.5h9.6M479.0 204.7v9.6M475.6 206.1l6.8 6.8M482.4 206.1l-6.8 6.8" stroke="#066606" stroke-width="2.3"/>
<path d="M321.6 221.2h9.6M326.4 216.4v9.6M323.0 217.8l6.8 6.8M329.8 217.8l-6.8 6.8" stroke="#0c800c" stroke-width="2.3"/>
<path d="M409.1 215.6h9.6M413.9 210.8v9.6M410.5 212.2l6.8 6.8M417.3 212.2l-6.8 6.8" stroke="#0c800c" stroke-width="2.3"/>
<path d="M506.9 202.3h9.6M511.7 197.5v9.6M508.3 198.9l6.8 6.8M515.1 198.9l-6.8 6.8" stroke="#066606" stroke-width="2.3"/>
<rect x="511.7" y="202.0" width="1.2" height="3" fill="#111"/>
<path d="M443.3 212.8h9.6M448.1 208.0v9.6M444.7 209.4l6.8 6.8M451.5 209.4l-6.8 6.8" stroke="#0c800c" stroke-width="2.3"/>
<path d="M538.8 201.3h9.6M543.6 196.5v9.6M540.2 197.9l6.8 6.8M547.0 197.9l-6.8 6.8" stroke="#0a7c0a" stroke-width="2.3"/>
<rect x="541.5" y="201.0" width="1.2" height="3" fill="#111"/>
<path d="M312.9 214.7h9.6M317.7 209.9v9.6M314.3 211.3l6.8 6.8M321.1 211.3l-6.8 6.8" stroke="#0a7608" stroke-width="2.3"/>
<path d="M394.5 213.3h9.6M399.3 208.5v9.6M395.9 209.9l6.8 6.8M402.7 209.9l-6.8 6.8" stroke="#087008" stroke-width="2.3"/>
<path d="M337.0 220.7h9.6M341.8 215.9v9.6M338.4 217.3l6.8 6.8M345.2 217.3l-6.8 6.8" stroke="#0a7608" stroke-width="2.3"/>
<path d="M531.3 213.6h9.6M536.1 208.8v9.6M532.7 210.2l6.8 6.8M539.5 210.2l-6.8 6.8" stroke="#0c800c" stroke-width="2.3"/>
<rect x="535.3" y="211.5" width="1.2" height="3" fill="#111"/>
<path d="M537.3 206.4h9.6M542.1 201.6v9.6M538.7 203.0l6.8 6.8M545.5 203.0l-6.8 6.8" stroke="#087008" stroke-width="2.3"/>
<path d="M305.2 214.3h9.6M310.0 209.5v9.6M306.6 210.9l6.8 6.8M313.4 210.9l-6.8 6.8" stroke="#0a7608" stroke-width="2.3"/>
<path d="M316.6 230.7h9.6M321.4 225.9v9.6M318.0 227.3l6.8 6.8M324.8 227.3l-6.8 6.8" stroke="#0c800c" stroke-width="2.3"/>
<path d="M538.9 213.0h9.6M543.7 208.2v9.6M540.3 209.6l6.8 6.8M547.1 209.6l-6.8 6.8" stroke="#0a7c0a" stroke-width="2.3"/>
<path d="M310.2 230.4h9.6M315.0 225.6v9.6M311.6 227.0l6.8 6.8M318.4 227.0l-6.8 6.8" stroke="#0a7c0a" stroke-width="2.3"/>
<path d="M329.4 218.5h9.6M334.2 213.7v9.6M330.8 215.1l6.8 6.8M337.6 215.1l-6.8 6.8" stroke="#087008" stroke-width="2.3"/>
<path d="M467.9 213.1h9.6M472.7 208.3v9.6M469.3 209.7l6.8 6.8M476.1 209.7l-6.8 6.8" stroke="#087008" stroke-width="2.3"/>
<path d="M497.8 206.2h9.6M502.6 201.4v9.6M499.2 202.8l6.8 6.8M506.0 202.8l-6.8 6.8" stroke="#0c800c" stroke-width="2.3"/>
<path d="M316.2 215.6h9.6M321.0 210.8v9.6M317.6 212.2l6.8 6.8M324.4 212.2l-6.8 6.8" stroke="#0c800c" stroke-width="2.3"/>
<path d="M521.1 200.9h9.6M525.9 196.1v9.6M522.5 197.5l6.8 6.8M529.3 197.5l-6.8 6.8" stroke="#066606" stroke-width="2.3"/>
<path d="M404.8 220.9h9.6M409.6 216.1v9.6M406.2 217.5l6.8 6.8M413.0 217.5l-6.8 6.8" stroke="#066606" stroke-width="2.3"/>
<path d="M298.0 220.1h9.6M302.8 215.3v9.6M299.4 216.7l6.8 6.8M306.2 216.7l-6.8 6.8" stroke="#0c800c" stroke-width="2.3"/>
<path d="M378.5 210.8h9.6M383.3 206.0v9.6M379.9 207.4l6.8 6.8M386.7 207.4l-6.8 6.8" stroke="#087008" stroke-width="2.3"/>
<path d="M497.8 211.9h9.6M502.6 207.1v9.6M499.2 208.5l6.8 6.8M506.0 208.5l-6.8 6.8" stroke="#066606" stroke-width="2.3"/>
<path d="M423.0 212.8h9.6M427.8 208.0v9.6M424.4 209.4l6.8 6.8M431.2 209.4l-6.8 6.8" stroke="#0a7608" stroke-width="2.3"/>
<path d="M373.4 218.0h9.6M378.2 213.2v9.6M374.8 214.6l6.8 6.8M381.6 214.6l-6.8 6.8" stroke="#066606" stroke-width="2.3"/>
<rect x="376.3" y="214.6" width="1.2" height="3" fill="#111"/>
<path d="M545.0 195.4h9.6M549.8 190.6v9.6M546.4 192.0l6.8 6.8M553.2 192.0l-6.8 6.8" stroke="#087008" stroke-width="2.3"/>
<path d="M295.9 226.8h9.6M300.7 222.0v9.6M297.3 223.4l6.8 6.8M304.1 223.4l-6.8 6.8" stroke="#0c800c" stroke-width="2.3"/>
<rect x="298.8" y="224.0" width="1.2" height="3" fill="#111"/>
<path d="M287.4 232.9h9.6M292.2 228.1v9.6M288.8 229.5l6.8 6.8M295.6 229.5l-6.8 6.8" stroke="#0a7608" stroke-width="2.3"/>
<path d="M443.1 205.4h9.6M447.9 200.6v9.6M444.5 202.0l6.8 6.8M451.3 202.0l-6.8 6.8" stroke="#0a7608" stroke-width="2.3"/>
<path d="M544.9 214.0h9.6M549.7 209.2v9.6M546.3 210.6l6.8 6.8M553.1 210.6l-6.8 6.8" stroke="#0c800c" stroke-width="2.3"/>
<path d="M503.8 197.9h9.6M508.6 193.1v9.6M505.2 194.5l6.8 6.8M512.0 194.5l-6.8 6.8" stroke="#0a7c0a" stroke-width="2.3"/>
<path d="M508.7 203.0h9.6M513.5 198.2v9.6M510.1 199.6l6.8 6.8M516.9 199.6l-6.8 6.8" stroke="#066606" stroke-width="2.3"/>
<rect x="514.5" y="199.8" width="1.2" height="3" fill="#111"/>
<path d="M426.2 211.3h9.6M431.0 206.5v9.6M427.6 207.9l6.8 6.8M434.4 207.9l-6.8 6.8" stroke="#0c800c" stroke-width="2.3"/>
<path d="M480.6 213.1h9.6M485.4 208.3v9.6M482.0 209.7l6.8 6.8M488.8 209.7l-6.8 6.8" stroke="#0a7608" stroke-width="2.3"/>
<path d="M474.0 197.3h9.6M478.8 192.5v9.6M475.4 193.9l6.8 6.8M482.2 193.9l-6.8 6.8" stroke="#087008" stroke-width="2.3"/>
<path d="M544.7 205.1h9.6M549.5 200.3v9.6M546.1 201.7l6.8 6.8M552.9 201.7l-6.8 6.8" stroke="#0a7608" stroke-width="2.3"/>
<path d="M363.4 220.0h9.6M368.2 215.2v9.6M364.8 216.6l6.8 6.8M371.6 216.6l-6.8 6.8" stroke="#066606" stroke-width="2.3"/>
<path d="M349.5 217.3h9.6M354.3 212.5v9.6M350.9 213.9l6.8 6.8M357.7 213.9l-6.8 6.8" stroke="#0c800c" stroke-width="2.3"/>
<rect x="353.7" y="216.0" width="1.2" height="3" fill="#111"/>
<path d="M488.6 208.9h9.6M493.4 204.1v9.6M490.0 205.5l6.8 6.8M496.8 205.5l-6.8 6.8" stroke="#0a7608" stroke-width="2.3"/>
<path d="M307.1 225.9h9.6M311.9 221.1v9.6M308.5 222.5l6.8 6.8M315.3 222.5l-6.8 6.8" stroke="#0a7608" stroke-width="2.3"/>
<path d="M516.3 208.3h9.6M521.1 203.5v9.6M517.7 204.9l6.8 6.8M524.5 204.9l-6.8 6.8" stroke="#066606" stroke-width="2.3"/>
<rect x="522.6" y="208.1" width="1.2" height="3" fill="#111"/>
<path d="M518.0 200.4h9.6M522.8 195.6v9.6M519.4 197.0l6.8 6.8M526.2 197.0l-6.8 6.8" stroke="#066606" stroke-width="2.3"/>
<path d="M354.3 220.6h9.6M359.1 215.8v9.6M355.7 217.2l6.8 6.8M362.5 217.2l-6.8 6.8" stroke="#066606" stroke-width="2.3"/>
<path d="M441.3 209.5h9.6M446.1 204.7v9.6M442.7 206.1l6.8 6.8M449.5 206.1l-6.8 6.8" stroke="#066606" stroke-width="2.3"/>
<path d="M365.3 225.0h9.6M370.1 220.2v9.6M366.7 221.6l6.8 6.8M373.5 221.6l-6.8 6.8" stroke="#066606" stroke-width="2.3"/>
<path d="M398.6 223.7h9.6M403.4 218.9v9.6M400.0 220.3l6.8 6.8M406.8 220.3l-6.8 6.8" stroke="#087008" stroke-width="2.3"/>
<path d="M518.0 203.1h9.6M522.8 198.3v9.6M519.4 199.7l6.8 6.8M526.2 199.7l-6.8 6.8" stroke="#0c800c" stroke-width="2.3"/>
<path d="M393.8 205.5h9.6M398.6 200.7v9.6M395.2 202.1l6.8 6.8M402.0 202.1l-6.8 6.8" stroke="#087008" stroke-width="2.3"/>
<path d="M407.1 220.4h9.6M411.9 215.6v9.6M408.5 217.0l6.8 6.8M415.3 217.0l-6.8 6.8" stroke="#0a7c0a" stroke-width="2.3"/>
<path d="M523.0 198.6h9.6M527.8 193.8v9.6M524.4 195.2l6.8 6.8M531.2 195.2l-6.8 6.8" stroke="#066606" stroke-width="2.3"/>
<rect x="544.3" y="208.7" width="6" height="6" fill="#0c800c"/>
<rect x="546.0" y="211.6" width="1.2" height="3" fill="#111"/>
<rect x="433.0" y="197.6" width="6" height="6" fill="#0a7608"/>
<rect x="282.8" y="229.0" width="6" height="6" fill="#066606"/>
<rect x="335.9" y="225.1" width="6" height="6" fill="#0a7c0a"/>
<rect x="274.2" y="223.7" width="6" height="6" fill="#0c800c"/>
<rect x="455.9" y="207.7" width="6" height="6" fill="#0a7608"/>
<rect x="278.2" y="225.0" width="6" height="6" fill="#0c800c"/>
<rect x="370.2" y="212.4" width="6" height="6" fill="#087008"/>
<rect x="393.3" y="211.5" width="6" height="6" fill="#0a7608"/>
<rect x="362.3" y="216.9" width="6" height="6" fill="#0c800c"/>
<rect x="350.2" y="224.4" width="6" height="6" fill="#0a7608"/>
<rect x="352.4" y="227.6" width="1.2" height="3" fill="#111"/>
<rect x="443.5" y="213.1" width="6" height="6" fill="#0c800c"/>
<rect x="445.3" y="214.1" width="1.2" height="3" fill="#111"/>
<rect x="310.3" y="216.2" width="6" height="6" fill="#0c800c"/>
<rect x="478.6" y="194.5" width="6" height="6" fill="#0a7c0a"/>
<rect x="362.9" y="220.1" width="6" height="6" fill="#0a7608"/>
<rect x="480.6" y="201.5" width="6" height="6" fill="#087008"/>
<rect x="554.3" y="192.2" width="6" height="6" fill="#0c800c"/>
<rect x="557.9" y="192.6" width="1.2" height="3" fill="#111"/>
<rect x="467.5" y="191.8" width="6" height="6" fill="#0a7c0a"/>
<rect x="395.6" y="216.4" width="6" height="6" fill="#066606"/>
<rect x="500.0" y="196.3" width="6" height="6" fill="#0a7c0a"/>
<rect x="332.8" y="213.1" width="6" height="6" fill="#0c800c"/>
<rect x="335.2" y="212.9" width="1.2" height="3" fill="#111"/>
<rect x="367.0" y="218.0" width="6" height="6" fill="#0a7c0a"/>
<rect x="465.3" y="206.1" width="6" height="6" fill="#0c800c"/>
<rect x="505.5" y="206.1" width="6" height="6" fill="#0a7c0a"/>
<rect x="327.8" y="227.6" width="6" height="6" fill="#0a7608"/>
<rect x="369.3" y="220.9" width="6" height="6" fill="#0a7608"/>
<rect x="382.9" y="217.9" width="6" height="6" fill="#087008"/>
<rect x="329.0" y="212.4" width="6" height="6" fill="#0c800c"/>
<rect x="358.5" y="223.1" width="6" height="6" fill="#087008"/>
<rect x="472.7" y="194.8" width="6" height="6" fill="#0c800c"/>
<rect x="382.6" y="216.3" width="6" height="6" fill="#0a7c0a"/>
<rect x="346.2" y="218.4" width="6" height="6" fill="#0c800c"/>
<rect x="390.9" y="207.9" width="6" height="6" fill="#066606"/>
<rect x="274.8" y="221.5" width="6" height="6" fill="#0a7608"/>
<rect x="276.5" y="224.7" width="1.2" height="3" fill="#111"/>
<rect x="421.9" y="210.2" width="6" height="6" fill="#066606"/>
<rect x="306.7" y="229.6" width="6" height="6" fill="#0a7c0a"/>
<rect x="503.0" y="202.0" width="6" height="6" fill="#066606"/>
<rect x="504.4" y="204.4" width="1.2" height="3" fill="#111"/>
<rect x="270.0" y="224.9" width="6" height="6" fill="#0c800c"/>
<rect x="341.2" y="216.9" width="6" height="6" fill="#066606"/>
<rect x="341.9" y="218.0" width="1.2" height="3" fill="#111"/>
<rect x="384.3" y="221.6" width="6" height="6" fill="#0a7608"/>
<rect x="503.3" y="198.8" width="6" height="6" fill="#0a7608"/>
<rect x="387.9" y="221.9" width="6" height="6" fill="#0c800c"/>
<rect x="391.1" y="222.8" width="1.2" height="3" fill="#111"/>
<rect x="512.9" y="200.4" width="6" height="6" fill="#066606"/>
<rect x="370.3" y="215.1" width="6" height="6" fill="#0a7c0a"/>
<rect x="341.8" y="223.4" width="6" height="6" fill="#0a7c0a"/>
<rect x="345.3" y="223.6" width="1.2" height="3" fill="#111"/>
<rect x="379.3" y="216.9" width="6" height="6" fill="#087008"/>
<rect x="381.7" y="216.5" width="1.2" height="3" fill="#111"/>
<rect x="523.9" y="208.0" width="6" height="6" fill="#0a7c0a"/>
<rect x="299.1" y="228.6" width="6" height="6" fill="#066606"/>
<rect x="466.4" y="201.2" width="6" height="6" fill="#087008"/>
<rect x="467.3" y="203.8" width="1.2" height="3" fill="#111"/>
<rect x="485.2" y="203.2" width="6" height="6" fill="#0a7608"/>
<rect x="540.9" y="192.0" width="6" height="6" fill="#0a7c0a"/>
<rect x="480.7" y="209.4" width="6" height="6" fill="#0c800c"/>
<rect x="411.0" y="207.3" width="6" height="6" fill="#087008"/>
<rect x="459.9" y="200.3" width="6" height="6" fill="#066606"/>
<rect x="359.0" y="210.6" width="6" height="6" fill="#0a7608"/>
<rect x="462.4" y="208.0" width="6" height="6" fill="#0a7608"/>
<circle cx="246" cy="226" r="6.8" fill="none" stroke="#2020f0" stroke-width="1.3"/>
<circle cx="246" cy="225" r="3" fill="#7a1a80"/>
<path d="M219.0 210.0V231.0M216.5 210.0h5M216.5 231.0h5" stroke="#2e8f2e" stroke-width="1.0" fill="none"/>
<circle cx="219.0" cy="220.0" r="5" fill="none" stroke="#1a8a1a" stroke-width="1.1"/>
<path d="M224.0 214.0V232.0M221.5 214.0h5M221.5 232.0h5" stroke="#2e8f2e" stroke-width="1.0" fill="none"/>
<circle cx="224.0" cy="225.0" r="5" fill="none" stroke="#1a8a1a" stroke-width="1.1"/>
<path d="M230.0 208.0V231.0M227.5 208.0h5M227.5 231.0h5" stroke="#2e8f2e" stroke-width="1.0" fill="none"/>
<circle cx="230.0" cy="219.0" r="5" fill="none" stroke="#1a8a1a" stroke-width="1.1"/>
<path d="M236.0 213.0V232.0M233.5 213.0h5M233.5 232.0h5" stroke="#2e8f2e" stroke-width="1.0" fill="none"/>
<circle cx="236.0" cy="224.0" r="5" fill="none" stroke="#1a8a1a" stroke-width="1.1"/>
<path d="M228.0 203.0V224.0M225.5 203.0h5M225.5 224.0h5" stroke="#2e8f2e" stroke-width="1.0" fill="none"/>
<circle cx="228.0" cy="213.0" r="5" fill="none" stroke="#1a8a1a" stroke-width="1.1"/>
<path d="M240.0 205.0V229.0M237.5 205.0h5M237.5 229.0h5" stroke="#2e8f2e" stroke-width="1.0" fill="none"/>
<circle cx="240.0" cy="216.0" r="5" fill="none" stroke="#1a8a1a" stroke-width="1.1"/>
<path d="M216.0 205.0V226.0M213.5 205.0h5M213.5 226.0h5" stroke="#2e8f2e" stroke-width="1.0" fill="none"/>
<circle cx="216.0" cy="214.0" r="5" fill="none" stroke="#1a8a1a" stroke-width="1.1"/>
<path d="M233.0 218.0V233.0M230.5 218.0h5M230.5 233.0h5" stroke="#2e8f2e" stroke-width="1.0" fill="none"/>
<circle cx="233.0" cy="228.0" r="5" fill="none" stroke="#1a8a1a" stroke-width="1.1"/>
<rect x="560.5" y="198.0" width="6" height="6" fill="#0a7d0a"/>
<rect x="559.0" y="201.0" width="6" height="6" fill="#0a7d0a"/>
<rect x="482.5" y="189.5" width="14" height="15" fill="none" stroke="#3a3aff" stroke-width="1"/>
<path d="M541 189.5H561M561.5 193.5h6.5v15h-6.5" fill="none" stroke="#4aa04a" stroke-width="1"/>
<rect x="461.5" y="196.5" width="8.5" height="23" fill="none" stroke="#5a5aff" stroke-width="0.8"/>
<path d="M293.9 202.8h6.2l-3.1 5.4z" fill="#1414e0"/>
<path d="M346.9 203.3h6.2l-3.1 5.4z" fill="#1414e0"/>
<path d="M301.9 202.3h6.2l-3.1 5.4z" fill="#1414e0"/>
<path d="M416.9 194.3h6.2l-3.1 5.4z" fill="#1414e0"/>
<path d="M441.9 190.3h6.2l-3.1 5.4z" fill="#1414e0"/>
<path d="M120.1 198.6V225.7M117.3 198.6h5.5M117.3 225.7h5.5" stroke="#111" stroke-width="1.15" fill="none"/>
<path d="M128.0 199.0V223.0M125.2 199.0h5.5M125.2 223.0h5.5" stroke="#111" stroke-width="1.15" fill="none"/>
<path d="M131.5 195.0V232.0M128.8 195.0h5.5M128.8 232.0h5.5" stroke="#111" stroke-width="1.15" fill="none"/>
<path d="M137.0 192.0V214.0M134.2 192.0h5.5M134.2 214.0h5.5" stroke="#111" stroke-width="1.15" fill="none"/>
<path d="M134.7 206.0V232.0M131.9 206.0h5.5M131.9 232.0h5.5" stroke="#111" stroke-width="1.15" fill="none"/>
<path d="M141.5 203.0V232.0M138.8 203.0h5.5M138.8 232.0h5.5" stroke="#111" stroke-width="1.15" fill="none"/>
<path d="M139.2 214.0V238.0M136.4 214.0h5.5M136.4 238.0h5.5" stroke="#111" stroke-width="1.15" fill="none"/>
<path d="M146.0 212.0V236.7M143.2 212.0h5.5M143.2 236.7h5.5" stroke="#111" stroke-width="1.15" fill="none"/>
<path d="M150.0 212.0V235.0M147.2 212.0h5.5M147.2 235.0h5.5" stroke="#111" stroke-width="1.15" fill="none"/>
<path d="M155.0 200.5V222.0M152.2 200.5h5.5M152.2 222.0h5.5" stroke="#111" stroke-width="1.15" fill="none"/>
<path d="M158.4 206.4V232.0M155.7 206.4h5.5M155.7 232.0h5.5" stroke="#111" stroke-width="1.15" fill="none"/>
<path d="M152.0 209.0V230.0M149.2 209.0h5.5M149.2 230.0h5.5" stroke="#111" stroke-width="1.15" fill="none"/>
<path d="M165.7 209.4V230.6M162.9 209.4h5.5M162.9 230.6h5.5" stroke="#111" stroke-width="1.15" fill="none"/>
<path d="M143.0 210.0V233.0M140.2 210.0h5.5M140.2 233.0h5.5" stroke="#111" stroke-width="1.15" fill="none"/>
<path d="M147.0 207.0V230.0M144.2 207.0h5.5M144.2 230.0h5.5" stroke="#111" stroke-width="1.15" fill="none"/>
<path d="M150.0 205.0V228.0M147.2 205.0h5.5M147.2 228.0h5.5" stroke="#111" stroke-width="1.15" fill="none"/>
<path d="M153.0 213.0V236.0M150.2 213.0h5.5M150.2 236.0h5.5" stroke="#111" stroke-width="1.15" fill="none"/>
<path d="M145.0 216.0V237.0M142.2 216.0h5.5M142.2 237.0h5.5" stroke="#111" stroke-width="1.15" fill="none"/>
<path d="M156.0 204.0V226.0M153.2 204.0h5.5M153.2 226.0h5.5" stroke="#111" stroke-width="1.15" fill="none"/>
<path d="M160.0 211.0V231.0M157.2 211.0h5.5M157.2 231.0h5.5" stroke="#111" stroke-width="1.15" fill="none"/>
<path d="M186.9 206.0V228.0M184.2 206.0h5.5M184.2 228.0h5.5" stroke="#111" stroke-width="1.15" fill="none"/>
<path d="M190.5 200.0V221.0M187.8 200.0h5.5M187.8 221.0h5.5" stroke="#111" stroke-width="1.15" fill="none"/>
<path d="M193.4 197.0V219.0M190.7 197.0h5.5M190.7 219.0h5.5" stroke="#111" stroke-width="1.15" fill="none"/>
<path d="M198.0 198.0V221.0M195.2 198.0h5.5M195.2 221.0h5.5" stroke="#111" stroke-width="1.15" fill="none"/>
<path d="M201.0 197.0V218.0M198.2 197.0h5.5M198.2 218.0h5.5" stroke="#111" stroke-width="1.15" fill="none"/>
<path d="M204.0 200.0V221.0M201.2 200.0h5.5M201.2 221.0h5.5" stroke="#111" stroke-width="1.15" fill="none"/>
<path d="M207.0 197.0V217.0M204.2 197.0h5.5M204.2 217.0h5.5" stroke="#111" stroke-width="1.15" fill="none"/>
<path d="M210.0 199.0V221.0M207.2 199.0h5.5M207.2 221.0h5.5" stroke="#111" stroke-width="1.15" fill="none"/>
<path d="M213.0 197.0V219.0M210.2 197.0h5.5M210.2 219.0h5.5" stroke="#111" stroke-width="1.15" fill="none"/>
<path d="M216.0 199.0V220.0M213.2 199.0h5.5M213.2 220.0h5.5" stroke="#111" stroke-width="1.15" fill="none"/>
<path d="M221.0 190.0V211.0M218.2 190.0h5.5M218.2 211.0h5.5" stroke="#111" stroke-width="1.15" fill="none"/>
<path d="M224.0 190.0V207.0M221.2 190.0h5.5M221.2 207.0h5.5" stroke="#111" stroke-width="1.15" fill="none"/>
<path d="M227.0 190.0V210.0M224.2 190.0h5.5M224.2 210.0h5.5" stroke="#111" stroke-width="1.15" fill="none"/>
<path d="M230.0 190.0V206.0M227.2 190.0h5.5M227.2 206.0h5.5" stroke="#111" stroke-width="1.15" fill="none"/>
<path d="M233.0 191.0V211.0M230.2 191.0h5.5M230.2 211.0h5.5" stroke="#111" stroke-width="1.15" fill="none"/>
<path d="M236.0 193.0V214.0M233.2 193.0h5.5M233.2 214.0h5.5" stroke="#111" stroke-width="1.15" fill="none"/>
<path d="M225.0 196.0V218.0M222.2 196.0h5.5M222.2 218.0h5.5" stroke="#111" stroke-width="1.15" fill="none"/>
<path d="M232.0 197.0V226.0M229.2 197.0h5.5M229.2 226.0h5.5" stroke="#111" stroke-width="1.15" fill="none"/>
<path d="M219.0 208.0V228.0M216.2 208.0h5.5M216.2 228.0h5.5" stroke="#111" stroke-width="1.15" fill="none"/>
<path d="M239.0 191.0V212.0M236.2 191.0h5.5M236.2 212.0h5.5" stroke="#111" stroke-width="1.15" fill="none"/>
<path d="M578.0 199.0V226.0M575.2 199.0h5.5M575.2 226.0h5.5" stroke="#111" stroke-width="1.15" fill="none"/>
<path d="M589.0 198.0V223.0M586.2 198.0h5.5M586.2 223.0h5.5" stroke="#111" stroke-width="1.15" fill="none"/>
<path d="M592.0 195.0V232.0M589.2 195.0h5.5M589.2 232.0h5.5" stroke="#111" stroke-width="1.15" fill="none"/>
<path d="M596.0 193.0V215.0M593.2 193.0h5.5M593.2 215.0h5.5" stroke="#111" stroke-width="1.15" fill="none"/>
<path d="M599.0 203.0V227.0M596.2 203.0h5.5M596.2 227.0h5.5" stroke="#111" stroke-width="1.15" fill="none"/>
<path d="M594.0 210.0V238.0M591.2 210.0h5.5M591.2 238.0h5.5" stroke="#111" stroke-width="1.15" fill="none"/>
<path d="M598.0 215.0V240.0M595.2 215.0h5.5M595.2 240.0h5.5" stroke="#111" stroke-width="1.15" fill="none"/>
<path d="M586.0 200.0V222.0M583.2 200.0h5.5M583.2 222.0h5.5" stroke="#111" stroke-width="1.15" fill="none"/>
<path d="M591.0 205.0V225.0M588.2 205.0h5.5M588.2 225.0h5.5" stroke="#111" stroke-width="1.15" fill="none"/>
<path d="M588.0 198.0V218.0M585.2 198.0h5.5M585.2 218.0h5.5" stroke="#111" stroke-width="1.15" fill="none"/>
<circle cx="120.6" cy="211.4" r="6.4" fill="none" stroke="#777" stroke-width="1"/>
<circle cx="120.1" cy="211.4" r="3.6" fill="#000"/>
<circle cx="128.0" cy="208.0" r="3.6" fill="#000"/>
<circle cx="131.5" cy="211.5" r="3.6" fill="#000"/>
<circle cx="137.0" cy="203.5" r="3.6" fill="#000"/>
<circle cx="134.7" cy="219.8" r="3.6" fill="#000"/>
<circle cx="141.5" cy="213.6" r="3.6" fill="#000"/>
<circle cx="139.2" cy="226.0" r="3.6" fill="#000"/>
<circle cx="146.0" cy="223.8" r="3.6" fill="#000"/>
<circle cx="150.0" cy="222.7" r="3.6" fill="#000"/>
<circle cx="155.0" cy="210.3" r="3.6" fill="#000"/>
<circle cx="158.4" cy="217.0" r="3.6" fill="#000"/>
<circle cx="152.0" cy="219.3" r="3.6" fill="#000"/>
<circle cx="165.7" cy="218.7" r="3.6" fill="#000"/>
<circle cx="143.0" cy="220.0" r="3.6" fill="#000"/>
<circle cx="147.0" cy="217.0" r="3.6" fill="#000"/>
<circle cx="150.0" cy="215.0" r="3.6" fill="#000"/>
<circle cx="153.0" cy="224.0" r="3.6" fill="#000"/>
<circle cx="145.0" cy="226.0" r="3.6" fill="#000"/>
<circle cx="156.0" cy="214.0" r="3.6" fill="#000"/>
<circle cx="160.0" cy="221.0" r="3.6" fill="#000"/>
<circle cx="186.9" cy="217.3" r="3.6" fill="#000"/>
<circle cx="190.5" cy="210.0" r="3.6" fill="#000"/>
<circle cx="193.4" cy="207.5" r="3.6" fill="#000"/>
<circle cx="198.0" cy="209.0" r="3.6" fill="#000"/>
<circle cx="201.0" cy="206.0" r="3.6" fill="#000"/>
<circle cx="204.0" cy="211.0" r="3.6" fill="#000"/>
<circle cx="207.0" cy="205.0" r="3.6" fill="#000"/>
<circle cx="210.0" cy="209.0" r="3.6" fill="#000"/>
<circle cx="213.0" cy="206.0" r="3.6" fill="#000"/>
<circle cx="216.0" cy="208.0" r="3.6" fill="#000"/>
<circle cx="221.0" cy="200.0" r="3.6" fill="#000"/>
<circle cx="224.0" cy="197.0" r="3.6" fill="#000"/>
<circle cx="227.0" cy="199.0" r="3.6" fill="#000"/>
<circle cx="230.0" cy="196.0" r="3.6" fill="#000"/>
<circle cx="233.0" cy="200.0" r="3.6" fill="#000"/>
<circle cx="236.0" cy="203.0" r="3.6" fill="#000"/>
<circle cx="225.0" cy="205.0" r="3.6" fill="#000"/>
<circle cx="232.0" cy="207.0" r="3.6" fill="#000"/>
<circle cx="219.0" cy="216.0" r="3.6" fill="#000"/>
<circle cx="239.0" cy="200.0" r="3.6" fill="#000"/>
<circle cx="578.0" cy="212.0" r="3.6" fill="#000"/>
<circle cx="589.0" cy="210.0" r="3.6" fill="#000"/>
<circle cx="592.0" cy="205.0" r="3.6" fill="#000"/>
<circle cx="596.0" cy="203.0" r="3.6" fill="#000"/>
<circle cx="599.0" cy="214.0" r="3.6" fill="#000"/>
<circle cx="594.0" cy="220.0" r="3.6" fill="#000"/>
<circle cx="598.0" cy="227.0" r="3.6" fill="#000"/>
<circle cx="586.0" cy="211.0" r="3.6" fill="#000"/>
<circle cx="591.0" cy="215.0" r="3.6" fill="#000"/>
<circle cx="588.0" cy="207.0" r="3.6" fill="#000"/>
<path d="M100.8 190.4V211.4M97.8 190.4h6M97.8 211.4h6" stroke="#2e8f2e" stroke-width="1.2" fill="none"/>
<path d="M99.0 192.0V209.0M96.0 192.0h6M96.0 209.0h6" stroke="#2e8f2e" stroke-width="1.0" fill="none"/>
<rect x="95.5" y="195.0" width="6" height="6" fill="#0a7d0a"/>
<rect x="100.0" y="196.0" width="6" height="6" fill="#0a7d0a"/>
<rect x="96.0" y="200.0" width="6" height="6" fill="#0a7d0a"/>
<rect x="101.0" y="200.5" width="6" height="6" fill="#0a7d0a"/>
<rect x="97.5" y="197.0" width="6" height="6" fill="#0a7d0a"/>
<polyline points="101,203.5 106,205.5 120,211 140,214.5 165,218.5 190,215.5 215,210.5 232,208" fill="none" stroke="#000" stroke-width="1.7"/>
<polyline points="560,205.5 568,207 578,211.5 592,213" fill="none" stroke="#000" stroke-width="1.7"/>
<rect x="63.4" y="5" width="1.7" height="418.6" fill="#262626"/>
<rect x="63.4" y="5" width="572.6" height="2.1" fill="#1c1c1c"/>
<rect x="633.9" y="5" width="1.9" height="418.6" fill="#7a7a7a"/>
<rect x="63.4" y="421.7" width="572.6" height="2.0" fill="#2e2e2e"/>
<rect x="121.00" y="7" width="1.2" height="7.3" fill="#555"/>
<rect x="121.00" y="415.6" width="1.2" height="6.2" fill="#555"/>
<rect x="165.30" y="7" width="1.2" height="7.3" fill="#555"/>
<rect x="165.30" y="415.6" width="1.2" height="6.2" fill="#555"/>
<rect x="211.20" y="7" width="1.2" height="7.3" fill="#555"/>
<rect x="211.20" y="415.6" width="1.2" height="6.2" fill="#555"/>
<rect x="258.15" y="7" width="1.2" height="7.3" fill="#555"/>
<rect x="258.15" y="415.6" width="1.2" height="6.2" fill="#555"/>
<rect x="304.10" y="7" width="1.2" height="7.3" fill="#555"/>
<rect x="304.10" y="415.6" width="1.2" height="6.2" fill="#555"/>
<rect x="350.30" y="7" width="1.2" height="7.3" fill="#555"/>
<rect x="350.30" y="415.6" width="1.2" height="6.2" fill="#555"/>
<rect x="395.90" y="7" width="1.2" height="7.3" fill="#555"/>
<rect x="395.90" y="415.6" width="1.2" height="6.2" fill="#555"/>
<rect x="440.00" y="7" width="1.2" height="7.3" fill="#555"/>
<rect x="440.00" y="415.6" width="1.2" height="6.2" fill="#555"/>
<rect x="487.00" y="7" width="1.2" height="7.3" fill="#555"/>
<rect x="487.00" y="415.6" width="1.2" height="6.2" fill="#555"/>
<rect x="533.15" y="7" width="1.2" height="7.3" fill="#555"/>
<rect x="533.15" y="415.6" width="1.2" height="6.2" fill="#555"/>
<rect x="578.90" y="7" width="1.2" height="7.3" fill="#555"/>
<rect x="578.90" y="415.6" width="1.2" height="6.2" fill="#555"/>
<rect x="65" y="39.30" width="7.4" height="1.2" fill="#555"/>
<rect x="627.3" y="39.30" width="6.8" height="1.2" fill="#555"/>
<rect x="65" y="68.60" width="7.4" height="1.2" fill="#555"/>
<rect x="627.3" y="68.60" width="6.8" height="1.2" fill="#555"/>
<rect x="65" y="96.60" width="7.4" height="1.2" fill="#555"/>
<rect x="627.3" y="96.60" width="6.8" height="1.2" fill="#555"/>
<rect x="65" y="125.60" width="7.4" height="1.2" fill="#555"/>
<rect x="627.3" y="125.60" width="6.8" height="1.2" fill="#555"/>
<rect x="65" y="153.60" width="7.4" height="1.2" fill="#555"/>
<rect x="627.3" y="153.60" width="6.8" height="1.2" fill="#555"/>
<rect x="65" y="182.90" width="7.4" height="1.2" fill="#555"/>
<rect x="627.3" y="182.90" width="6.8" height="1.2" fill="#555"/>
<rect x="65" y="211.00" width="7.4" height="1.2" fill="#555"/>
<rect x="627.3" y="211.00" width="6.8" height="1.2" fill="#555"/>
<rect x="65" y="239.00" width="7.4" height="1.2" fill="#555"/>
<rect x="627.3" y="239.00" width="6.8" height="1.2" fill="#555"/>
<rect x="65" y="268.30" width="7.4" height="1.2" fill="#555"/>
<rect x="627.3" y="268.30" width="6.8" height="1.2" fill="#555"/>
<rect x="65" y="297.40" width="7.4" height="1.2" fill="#555"/>
<rect x="627.3" y="297.40" width="6.8" height="1.2" fill="#555"/>
<rect x="65" y="325.60" width="7.4" height="1.2" fill="#555"/>
<rect x="627.3" y="325.60" width="6.8" height="1.2" fill="#555"/>
<rect x="65" y="354.80" width="7.4" height="1.2" fill="#555"/>
<rect x="627.3" y="354.80" width="6.8" height="1.2" fill="#555"/>
<rect x="65" y="382.80" width="7.4" height="1.2" fill="#555"/>
<rect x="627.3" y="382.80" width="6.8" height="1.2" fill="#555"/>
<g transform="translate(257.9,41.0) scale(1.215,1)"><text x="0" y="0" font-size="23" font-weight="bold" text-anchor="start" fill="#000" stroke="#000" stroke-width="0.8" stroke-linejoin="round">2048 Dwornik</text></g>
<g transform="translate(572.4,47.2) scale(1.155,1)"><text x="0" y="0" font-size="35" font-weight="bold" text-anchor="start" fill="#000" stroke="#000" stroke-width="1.3" stroke-linejoin="round">P2</text></g>
<g transform="translate(208.6,64.9) scale(1.017,1)"><text x="0" y="0" font-size="18" font-weight="bold" text-anchor="start" fill="#000" >Period: 11.74 ± 0.01 h&#160;&#160;Amp: 0.03</text></g>
<g transform="translate(80.7,408.6) scale(1.095,1)"><text x="0" y="0" font-size="16.5" font-weight="bold" text-anchor="start" fill="#000" >JDo(LTC): 2457408.847695</text></g>
<g transform="translate(60.4,45.9) scale(1.0,1)"><text x="0" y="0" font-size="16.5" font-weight="bold" text-anchor="end" fill="#000" stroke="#000" stroke-width="0.35">-0.30</text></g>
<g transform="translate(60.4,75.2) scale(1.0,1)"><text x="0" y="0" font-size="16.5" font-weight="bold" text-anchor="end" fill="#000" stroke="#000" stroke-width="0.35">-0.25</text></g>
<g transform="translate(60.4,103.2) scale(1.0,1)"><text x="0" y="0" font-size="16.5" font-weight="bold" text-anchor="end" fill="#000" stroke="#000" stroke-width="0.35">-0.20</text></g>
<g transform="translate(60.4,132.2) scale(1.0,1)"><text x="0" y="0" font-size="16.5" font-weight="bold" text-anchor="end" fill="#000" stroke="#000" stroke-width="0.35">-0.15</text></g>
<g transform="translate(60.4,160.2) scale(1.0,1)"><text x="0" y="0" font-size="16.5" font-weight="bold" text-anchor="end" fill="#000" stroke="#000" stroke-width="0.35">-0.10</text></g>
<g transform="translate(60.4,189.5) scale(1.0,1)"><text x="0" y="0" font-size="16.5" font-weight="bold" text-anchor="end" fill="#000" stroke="#000" stroke-width="0.35">-0.05</text></g>
<g transform="translate(60.4,217.6) scale(1.0,1)"><text x="0" y="0" font-size="16.5" font-weight="bold" text-anchor="end" fill="#000" stroke="#000" stroke-width="0.35">0.00</text></g>
<g transform="translate(60.4,245.6) scale(1.0,1)"><text x="0" y="0" font-size="16.5" font-weight="bold" text-anchor="end" fill="#000" stroke="#000" stroke-width="0.35">0.05</text></g>
<g transform="translate(60.4,274.9) scale(1.0,1)"><text x="0" y="0" font-size="16.5" font-weight="bold" text-anchor="end" fill="#000" stroke="#000" stroke-width="0.35">0.10</text></g>
<g transform="translate(60.4,304.0) scale(1.0,1)"><text x="0" y="0" font-size="16.5" font-weight="bold" text-anchor="end" fill="#000" stroke="#000" stroke-width="0.35">0.15</text></g>
<g transform="translate(60.4,332.2) scale(1.0,1)"><text x="0" y="0" font-size="16.5" font-weight="bold" text-anchor="end" fill="#000" stroke="#000" stroke-width="0.35">0.20</text></g>
<g transform="translate(60.4,361.4) scale(1.0,1)"><text x="0" y="0" font-size="16.5" font-weight="bold" text-anchor="end" fill="#000" stroke="#000" stroke-width="0.35">0.25</text></g>
<g transform="translate(60.4,389.4) scale(1.0,1)"><text x="0" y="0" font-size="16.5" font-weight="bold" text-anchor="end" fill="#000" stroke="#000" stroke-width="0.35">0.30</text></g>
<g transform="translate(121.6,440.0) scale(1.0,1)"><text x="0" y="0" font-size="16.5" font-weight="bold" text-anchor="middle" fill="#000" stroke="#000" stroke-width="0.35">0.00</text></g>
<g transform="translate(165.9,440.0) scale(1.0,1)"><text x="0" y="0" font-size="16.5" font-weight="bold" text-anchor="middle" fill="#000" stroke="#000" stroke-width="0.35">0.10</text></g>
<g transform="translate(211.8,440.0) scale(1.0,1)"><text x="0" y="0" font-size="16.5" font-weight="bold" text-anchor="middle" fill="#000" stroke="#000" stroke-width="0.35">0.20</text></g>
<g transform="translate(258.75,440.0) scale(1.0,1)"><text x="0" y="0" font-size="16.5" font-weight="bold" text-anchor="middle" fill="#000" stroke="#000" stroke-width="0.35">0.30</text></g>
<g transform="translate(304.7,440.0) scale(1.0,1)"><text x="0" y="0" font-size="16.5" font-weight="bold" text-anchor="middle" fill="#000" stroke="#000" stroke-width="0.35">0.40</text></g>
<g transform="translate(350.9,440.0) scale(1.0,1)"><text x="0" y="0" font-size="16.5" font-weight="bold" text-anchor="middle" fill="#000" stroke="#000" stroke-width="0.35">0.50</text></g>
<g transform="translate(396.5,440.0) scale(1.0,1)"><text x="0" y="0" font-size="16.5" font-weight="bold" text-anchor="middle" fill="#000" stroke="#000" stroke-width="0.35">0.60</text></g>
<g transform="translate(440.6,440.0) scale(1.0,1)"><text x="0" y="0" font-size="16.5" font-weight="bold" text-anchor="middle" fill="#000" stroke="#000" stroke-width="0.35">0.70</text></g>
<g transform="translate(487.6,440.0) scale(1.0,1)"><text x="0" y="0" font-size="16.5" font-weight="bold" text-anchor="middle" fill="#000" stroke="#000" stroke-width="0.35">0.80</text></g>
<g transform="translate(533.75,440.0) scale(1.0,1)"><text x="0" y="0" font-size="16.5" font-weight="bold" text-anchor="middle" fill="#000" stroke="#000" stroke-width="0.35">0.90</text></g>
<g transform="translate(579.5,440.0) scale(1.0,1)"><text x="0" y="0" font-size="16.5" font-weight="bold" text-anchor="middle" fill="#000" stroke="#000" stroke-width="0.35">1.00</text></g>
<g transform="translate(15.3,348.6) rotate(-90) scale(1,0.93)"><text x="0" y="0" font-size="16" font-weight="bold">Reduced Magnitude(V) alpha(20.0°)</text></g>
<rect x="519.2" y="294.2" width="100.1" height="117.8" fill="#000"/>
<rect x="516.8" y="291.1" width="100" height="118" fill="#fff"/>
<rect x="516.8" y="292" width="1.2" height="117" fill="#9a9a9a"/>
<rect x="615.6" y="292" width="1.1" height="117" fill="#8a8a8a"/>
<rect x="516.8" y="408" width="100" height="1.1" fill="#9a9a9a"/>
<rect x="516.8" y="291.1" width="100" height="2.0" fill="#222"/>
<g transform="translate(540.3,304.3) scale(1.01,1)"><text x="0" y="0" font-size="12" font-weight="bold" text-anchor="start" fill="#000" stroke="#000" stroke-width="0.3">Year: 2016</text></g>
<g transform="translate(540.1,319.0) scale(1.02,1)"><text x="0" y="0" font-size="12" font-weight="bold" text-anchor="start" fill="#000" stroke="#000" stroke-width="0.3">11017 - 01/21</text></g>
<g transform="translate(540.1,333.5) scale(1.02,1)"><text x="0" y="0" font-size="12" font-weight="bold" text-anchor="start" fill="#000" stroke="#000" stroke-width="0.3">11037 - 01/29</text></g>
<g transform="translate(540.1,347.5) scale(1.02,1)"><text x="0" y="0" font-size="12" font-weight="bold" text-anchor="start" fill="#000" stroke="#000" stroke-width="0.3">11043 - 01/30</text></g>
<g transform="translate(540.1,362.0) scale(1.02,1)"><text x="0" y="0" font-size="12" font-weight="bold" text-anchor="start" fill="#000" stroke="#000" stroke-width="0.3">11048 - 01/31</text></g>
<g transform="translate(540.1,376.5) scale(1.02,1)"><text x="0" y="0" font-size="12" font-weight="bold" text-anchor="start" fill="#000" stroke="#000" stroke-width="0.3">11055 - 02/02</text></g>
<g transform="translate(540.1,390.8) scale(1.02,1)"><text x="0" y="0" font-size="12" font-weight="bold" text-anchor="start" fill="#000" stroke="#000" stroke-width="0.3">11064 - 02/03</text></g>
<g transform="translate(540.1,405.2) scale(1.02,1)"><text x="0" y="0" font-size="12" font-weight="bold" text-anchor="start" fill="#000" stroke="#000" stroke-width="0.3">4th Order</text></g>
<circle cx="528.8" cy="314.2" r="3.7" fill="#000"/>
<path d="M523.6 328.9h10.4M528.8 323.7v10.4" stroke="#1a8a1a" stroke-width="2.2"/>
<path d="M524.8 339.6h8.6l-4.3 7.8z" fill="#0000ee"/>
<rect x="525.3" y="354.5" width="7.4" height="7.1" fill="#7a1a8a" stroke="#3a0a3a" stroke-width="0.8"/>
<path d="M524.6 372.6h8.8M529 368.2v8.8" stroke="#108a10" stroke-width="1.8"/><path d="M524.3 367.9l9.4 9.4M533.7 367.9l-9.4 9.4" stroke="#108a10" stroke-width="2.3"/><rect x="526.2" y="369.8" width="5.6" height="5.6" fill="#0a800a"/>
<rect x="525.3" y="383.3" width="7.4" height="7.1" fill="#0a7a0a" stroke="#053a05" stroke-width="0.8"/>
<rect x="519.7" y="400.2" width="18" height="1.8" fill="#000"/>
</svg>
</body></html>
